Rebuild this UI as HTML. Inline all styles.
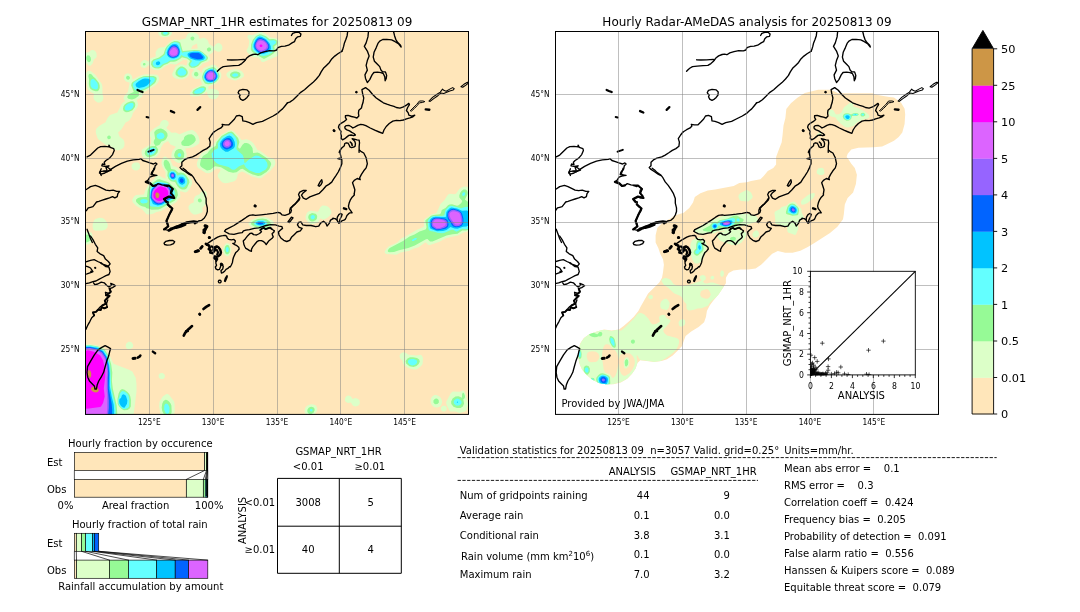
<!DOCTYPE html>
<html><head><meta charset="utf-8"><title>GSMAP_NRT_1HR validation 20250813 09</title>
<style>
html,body{margin:0;padding:0;background:#fff;}
svg{display:block;will-change:transform;opacity:0.9999;font-family:"DejaVu Sans","Liberation Sans",sans-serif;fill:#000;}
.cn{font-family:"DejaVu Sans Condensed","DejaVu Sans","Liberation Sans Narrow",sans-serif;font-stretch:condensed;}
</style></head><body>
<svg width="1080" height="612" viewBox="0 0 1080 612">
<defs>
<clipPath id="clipL"><rect x="85.5" y="31.5" width="383.0" height="382.9"/></clipPath>
<clipPath id="clipR"><rect x="555.5" y="31.5" width="383.0" height="382.9"/></clipPath>
<clipPath id="insclip"><rect x="810.4" y="268" width="108" height="107.3"/></clipPath>
</defs>
<rect width="1080" height="612" fill="#fff"/>
<text x="277.0" y="26.0" font-size="12" text-anchor="middle" >GSMAP_NRT_1HR estimates for 20250813 09</text>
<text x="747.0" y="26.0" font-size="12" text-anchor="middle" >Hourly Radar-AMeDAS analysis for 20250813 09</text>
<g clip-path="url(#clipL)">
<rect x="85.5" y="31.5" width="383.0" height="382.9" fill="#ffe6ba"/>
<path d="M167.5,37.1L163.0,37.2L159.8,36.0L158.7,34.5L158.3,33.0L159.2,30.0L170.5,30.0L171.8,32.0L171.8,34.0L170.2,36.0ZM215.5,99.0L212.5,99.3L209.5,98.0L207.7,95.5L207.0,91.7L202.5,94.9L199.0,96.3L193.5,96.6L191.5,96.3L190.2,95.5L189.7,94.5L190.0,93.0L192.5,89.2L202.2,84.5L200.0,78.8L199.5,78.5L197.5,79.1L195.5,79.0L193.6,78.0L192.3,76.5L191.6,75.0L191.8,73.0L194.2,69.5L189.0,68.8L189.6,72.5L189.1,75.0L187.0,77.5L184.0,79.1L181.5,79.5L178.5,79.1L175.0,78.2L173.0,76.6L172.3,75.0L172.3,73.5L175.5,67.1L177.0,65.7L180.0,64.6L183.0,64.6L186.5,65.7L187.7,61.0L186.5,59.9L183.5,59.7L176.0,64.4L170.0,64.0L165.7,66.0L161.0,69.4L158.0,70.3L154.0,69.7L151.5,68.8L148.5,64.9L146.0,67.4L144.5,67.9L142.5,67.6L141.5,66.9L140.6,65.5L140.4,64.0L140.9,62.5L142.5,60.7L144.0,60.1L146.0,60.3L148.5,61.7L150.5,58.6L155.9,56.5L155.5,52.5L157.0,49.8L158.5,48.2L160.3,47.5L164.5,47.0L169.5,42.2L173.5,39.7L175.5,39.4L179.0,39.9L185.5,38.5L187.5,34.2L190.0,32.6L193.5,32.6L197.0,33.8L198.5,35.5L199.5,39.0L203.5,37.8L205.9,38.5L208.0,40.7L209.0,44.0L213.5,46.7L214.0,46.7L215.5,44.5L216.8,43.5L218.5,43.1L220.0,43.5L221.5,44.7L222.3,46.5L222.4,48.5L221.5,50.4L220.0,51.4L218.5,51.7L217.0,51.4L214.5,50.1L212.0,53.1L208.7,55.0L210.1,58.0L210.1,59.5L209.5,60.5L207.5,61.9L202.9,63.5L201.2,65.5L196.5,69.0L199.0,70.3L201.0,73.0L201.5,72.7L202.9,69.0L204.0,67.9L212.0,64.8L214.0,64.7L215.5,65.2L218.3,68.0L221.3,74.0L221.3,76.5L220.4,79.0L216.0,83.7L208.4,86.5L208.5,89.7L211.5,88.7L214.0,88.9L217.1,90.0L218.7,91.5L219.1,93.5L218.5,96.0L217.0,98.0ZM263.5,62.1L261.5,61.8L259.9,59.0L258.0,57.6L252.5,57.0L246.9,52.0L246.7,50.0L248.5,46.5L249.2,42.0L249.0,40.0L247.4,37.0L247.6,36.0L248.5,35.0L249.5,34.7L252.5,35.2L259.5,32.3L261.5,32.1L268.0,35.2L270.5,37.5L275.0,37.9L277.5,38.7L279.8,41.0L280.1,44.0L278.1,47.5L278.4,54.5L278.0,55.8ZM192.0,49.0L197.7,48.5L197.0,43.4L192.5,45.8L191.1,48.5ZM90.5,65.7L89.0,65.7L88.0,65.1L84.0,60.2L84.0,54.4L86.0,52.8L89.0,51.9L91.0,50.2L93.0,49.9L94.5,50.5L96.0,52.1L96.6,54.0L96.7,56.5L96.0,58.1L94.0,59.3L92.6,63.5ZM236.0,80.5L232.0,80.1L227.8,77.5L226.3,75.0L226.6,73.5L227.4,72.5L230.5,70.2L233.5,69.3L238.5,69.6L242.0,71.4L243.8,74.0L243.8,76.5L241.2,78.5ZM100.0,102.6L97.5,102.6L94.7,100.5L93.3,97.5L94.2,94.0L89.3,91.0L87.8,89.0L86.6,82.0L86.7,78.5L86.1,74.0L86.7,72.0L88.0,71.0L89.5,70.8L91.0,71.3L95.5,74.9L101.8,84.0L102.4,86.5L102.5,94.0L103.5,98.0L102.5,100.9ZM119.5,150.1L117.5,150.5L114.7,149.5L112.6,148.0L111.0,146.2L106.0,145.0L98.5,139.5L97.5,138.0L95.9,133.0L95.8,130.5L96.5,128.5L99.1,126.0L105.5,122.2L107.5,117.9L110.0,115.1L117.4,112.5L121.4,104.5L123.0,102.6L125.4,101.0L123.6,99.0L123.6,97.5L125.1,95.0L127.9,92.0L129.6,83.0L129.4,82.5L126.0,81.5L124.2,79.5L124.0,76.5L125.5,74.1L128.0,73.2L130.5,74.2L131.9,76.0L132.5,79.4L133.0,79.6L140.0,75.8L144.0,74.6L148.0,74.2L157.0,74.8L158.4,76.0L159.2,78.5L158.9,80.5L157.7,83.0L155.2,85.5L143.8,92.5L142.0,96.8L136.9,100.0L138.2,104.5L137.2,107.5L132.9,113.0L132.0,116.3L130.0,119.6L128.5,121.0L125.6,122.5L121.5,129.3L118.1,132.5L119.5,136.5L123.4,139.5L124.5,142.5L124.4,145.5L123.6,147.5L121.9,149.0ZM181.5,162.6L179.0,162.9L177.0,162.5L172.1,159.0L171.4,156.5L171.9,152.5L172.8,150.5L175.7,147.0L175.4,146.5L170.5,144.6L168.0,141.0L163.5,143.5L160.7,148.0L160.3,151.0L158.8,154.0L157.3,156.0L155.5,157.3L150.5,159.3L147.0,159.5L144.0,158.2L142.0,155.5L141.5,152.0L142.0,149.5L150.9,144.0L151.3,139.0L149.8,135.5L149.9,132.5L154.1,128.5L159.8,125.0L160.7,122.0L163.0,120.0L165.9,120.0L168.1,121.5L168.7,123.0L168.7,124.5L166.3,128.0L171.5,132.8L175.5,132.6L179.5,134.2L188.0,130.8L192.0,130.1L193.5,130.6L196.0,132.5L198.4,136.0L199.6,140.5L199.1,143.5L197.5,144.8L193.0,147.2L185.2,148.5L186.6,153.5L186.6,156.5L184.5,160.5L183.0,161.9ZM227.5,183.0L225.0,183.2L222.5,182.5L220.5,180.7L218.0,177.0L217.6,175.0L220.4,170.5L220.5,169.5L220.0,169.0L216.5,168.6L211.0,172.5L208.5,173.2L206.0,173.1L198.2,168.0L197.0,166.0L196.8,163.5L198.2,159.0L201.3,153.5L203.5,152.0L207.0,150.6L210.5,147.0L213.7,144.5L215.7,141.0L221.5,134.4L229.0,130.6L231.5,130.2L234.1,131.5L238.6,136.0L241.5,140.0L246.5,139.2L249.0,140.0L251.5,141.5L253.6,143.5L257.5,149.9L260.5,151.1L268.2,157.0L273.5,158.8L274.9,160.5L275.4,163.0L274.7,165.5L270.2,171.0L261.5,177.9L259.0,178.2L252.0,176.5L243.5,172.0L241.5,171.4L237.9,174.0L237.0,178.1L235.4,180.5L233.5,181.5ZM149.5,214.5L146.5,214.3L142.0,209.2L136.0,205.7L132.5,202.0L132.3,199.5L134.0,196.5L136.0,195.1L144.0,194.5L145.2,190.5L147.6,186.0L150.4,182.5L154.0,179.2L156.3,176.0L157.5,175.6L159.5,175.8L164.0,178.2L165.9,178.5L165.4,175.0L165.7,172.5L162.3,166.5L161.5,163.0L162.6,158.0L164.0,156.7L165.5,156.6L170.0,159.6L172.9,166.0L176.5,166.9L179.5,169.9L184.5,171.2L186.5,172.4L191.9,180.5L192.2,182.5L191.9,184.5L189.2,189.5L187.0,191.9L185.0,192.4L181.0,191.3L180.0,191.4L180.4,196.5L176.5,202.0L161.0,211.0L156.5,212.0L153.0,213.7ZM137.0,170.5L134.0,170.2L132.5,169.0L131.7,167.5L131.5,166.0L131.9,164.5L133.0,163.2L134.5,162.4L138.0,162.6L139.3,163.5L140.0,164.9L140.1,167.0L139.6,168.5L138.5,169.7ZM396.5,254.7L386.5,254.1L384.8,253.0L384.7,251.5L386.2,249.0L389.0,246.2L396.3,243.0L397.8,242.0L401.3,238.5L405.0,236.8L417.0,229.8L423.3,227.0L424.2,225.5L423.7,221.0L424.5,219.0L427.5,217.3L431.0,214.6L436.5,213.0L440.5,203.9L444.6,200.0L447.0,195.9L448.5,194.2L450.0,193.7L454.0,194.2L456.0,193.8L459.5,188.8L461.5,187.4L464.0,186.5L467.0,186.7L470.0,189.4L470.4,218.0L470.0,230.6L463.7,232.5L458.0,235.5L446.2,238.0L439.5,241.8L430.0,245.0L428.5,245.1L426.0,242.4L425.0,242.4L418.5,247.2L414.0,248.5L408.6,251.0L400.5,252.4ZM196.5,214.6L193.5,214.4L191.0,212.6L188.6,209.0L188.5,206.3L190.5,203.7L193.6,202.5L194.0,198.5L195.5,195.9L199.5,194.2L201.0,192.1L202.5,191.1L205.0,190.8L206.3,192.0L206.9,194.0L206.6,196.0L205.3,198.5L206.3,201.5L206.2,203.0L205.4,204.5L202.3,208.0L202.7,211.0L202.1,212.5ZM313.0,224.0L311.0,224.0L309.5,223.5L305.9,219.5L305.5,216.5L307.0,212.8L309.0,211.3L311.0,210.7L318.0,211.8L320.5,207.0L322.5,205.6L326.0,205.7L328.5,207.0L330.5,209.6L331.5,212.0L331.0,213.9L329.5,215.9L327.0,218.0L324.0,219.5L322.9,219.5L320.5,218.3L318.5,221.7L316.0,223.2ZM266.0,230.1L259.0,229.8L252.0,227.4L249.0,225.0L248.6,224.0L248.7,222.5L251.5,219.8L258.5,217.3L264.5,217.0L268.0,217.9L272.8,221.0L273.8,222.0L273.9,223.0L270.5,227.9ZM102.5,230.6L95.5,230.7L94.0,230.3L93.3,229.5L92.6,227.0L92.7,224.0L93.9,220.5L95.4,219.0L99.5,217.7L102.5,218.0L104.8,219.5L107.0,222.5L107.8,225.0L107.4,227.5L105.5,229.5ZM88.0,244.5L85.5,244.8L84.0,244.5L83.9,244.0L84.0,232.3L86.0,231.8L91.0,232.3L91.8,233.0L92.3,234.5L92.8,239.0L92.3,241.0L90.5,243.2ZM228.0,256.2L226.5,256.3L224.7,255.0L223.5,253.0L223.0,250.5L223.3,248.0L224.3,245.5L226.0,243.6L227.5,243.2L229.0,243.7L230.2,245.0L231.3,249.5L230.4,253.5L229.5,255.0ZM130.5,349.1L127.5,349.0L126.5,348.2L125.8,347.0L125.7,345.5L126.3,343.5L128.5,341.8L130.0,341.7L131.5,342.3L133.1,344.5L133.2,346.0L132.7,347.5ZM133.0,416.1L84.0,416.4L83.6,416.0L83.6,349.5L84.0,344.7L90.0,344.3L95.5,345.1L98.0,345.7L105.0,348.8L109.4,355.0L113.5,363.8L129.0,369.7L132.3,371.5L135.8,378.0L136.5,384.5L136.5,391.5L133.9,412.5ZM417.0,369.2L414.5,369.5L411.0,368.9L407.5,367.4L404.5,365.4L403.1,363.5L402.5,360.6L400.7,359.0L399.8,357.5L399.6,355.5L400.5,353.8L402.0,352.7L404.0,352.3L406.0,352.9L408.5,354.8L416.5,355.4L420.5,354.8L421.8,355.5L423.0,358.0L422.6,364.0L421.1,366.0ZM163.0,379.0L160.5,378.9L158.8,377.5L158.6,375.0L160.0,373.3L162.5,373.1L164.0,373.9L164.8,375.0L164.8,377.5ZM465.1,411.5L459.5,412.9L455.5,411.6L450.5,411.5L449.3,410.5L446.7,405.0L446.1,403.0L446.4,401.5L450.9,393.0L452.8,391.5L460.0,391.7L463.0,390.4L464.0,391.0L465.1,392.5L468.0,404.0L466.3,410.5ZM173.5,416.0L161.4,416.0L160.2,413.0L159.1,406.0L159.6,401.5L163.0,396.2L166.5,394.0L167.5,393.9L169.0,394.8L174.1,401.5L174.6,404.5L174.7,411.5ZM437.5,407.6L435.5,407.5L433.5,406.7L431.8,405.0L430.7,402.5L430.6,400.0L431.2,398.0L432.8,396.0L434.5,394.9L436.5,395.0L439.5,396.5L441.0,398.2L441.9,400.5L442.1,402.5L441.3,405.0L439.9,406.5ZM357.5,406.1L355.5,406.5L353.5,405.9L352.0,404.5L351.0,402.5L348.0,402.9L346.0,402.1L345.1,401.0L344.8,399.5L345.6,397.0L347.0,395.8L349.0,395.6L351.0,396.6L352.5,399.0L355.5,398.1L358.2,399.0L359.5,400.5L359.9,403.0L359.0,405.0ZM313.5,416.0L307.1,416.0L304.9,413.0L304.6,410.5L305.2,408.0L306.5,406.2L308.5,404.9L311.0,404.2L313.5,404.4L315.5,405.3L316.8,407.0L317.3,409.0L317.0,411.0ZM445.0,411.5L442.5,411.6L441.0,410.1L441.0,407.5L442.5,405.8L445.0,405.8L446.8,407.5L446.6,410.0Z" fill="#dcffc8" fill-rule="evenodd"/>
<path d="M167.5,35.6L165.0,36.0L162.5,35.4L161.1,34.0L161.2,32.0L163.6,30.0L167.4,30.0L169.0,31.5L169.6,33.0L169.0,34.5ZM264.5,58.7L263.5,58.8L254.5,53.6L251.9,51.5L250.8,49.5L251.1,44.5L252.7,40.0L256.0,36.0L259.5,34.3L261.5,34.4L266.0,36.3L269.5,39.3L273.0,39.0L275.5,39.5L277.0,40.5L277.8,42.0L277.3,44.0L274.3,46.5L274.9,50.0L274.1,53.0L271.0,55.3ZM193.5,40.2L192.0,40.4L190.7,39.5L190.4,38.0L191.0,36.9L192.5,36.4L194.0,37.1L194.5,38.5ZM158.5,68.6L155.0,68.3L152.5,67.0L151.0,64.5L151.4,61.5L153.4,59.5L159.0,57.5L163.0,54.5L163.8,53.5L165.2,49.0L167.1,46.0L171.0,42.5L174.5,40.9L178.0,41.3L180.3,42.5L182.5,50.4L183.0,51.0L194.5,50.1L199.5,50.3L202.5,51.9L207.1,56.0L208.0,57.5L207.8,59.0L206.5,60.5L201.5,62.4L198.2,66.0L194.5,67.8L191.0,67.7L189.0,66.1L188.5,64.0L189.9,61.5L189.7,60.5L186.9,58.5L182.0,57.3L180.0,59.0L176.0,61.2L174.0,61.8L170.5,61.8L167.5,63.7L164.0,65.1L160.5,67.9ZM209.5,51.6L208.0,51.4L206.9,50.0L207.1,48.5L208.5,47.4L210.0,47.6L211.2,49.0L210.9,50.5ZM90.0,62.1L89.0,62.3L88.0,61.9L86.4,59.5L86.2,57.0L87.5,55.2L89.3,55.5L90.7,57.5L91.0,60.0ZM144.5,65.6L143.5,65.4L142.9,64.5L143.1,63.5L144.0,62.9L145.0,63.1L145.6,64.0L145.4,65.0ZM184.0,77.1L182.0,77.5L179.5,77.2L177.0,76.0L175.6,74.5L175.5,72.5L176.4,70.0L178.2,68.0L180.5,66.6L182.5,66.5L184.5,67.4L186.3,69.0L187.5,71.0L187.8,73.0L187.3,74.5L186.0,76.0ZM211.5,84.1L208.0,84.2L205.0,83.5L202.7,80.0L202.0,77.0L203.3,73.0L205.2,70.0L209.0,67.9L213.0,67.1L215.0,67.8L216.6,69.5L219.2,74.0L219.6,76.5L218.7,79.0L216.5,81.6L214.5,83.1ZM237.0,78.2L234.0,78.4L231.7,77.5L230.1,76.0L230.1,74.0L231.5,72.6L234.0,71.6L236.5,71.5L239.0,72.3L240.3,73.5L240.5,75.5L239.3,77.0ZM196.5,76.6L194.8,76.0L193.9,74.5L194.5,72.5L196.0,71.7L197.5,72.2L198.5,74.0L198.0,75.8ZM97.5,91.2L95.5,91.2L92.5,90.3L90.6,89.0L89.6,87.5L88.8,84.0L89.1,79.5L88.3,76.0L89.0,73.9L90.0,73.7L91.7,74.5L93.2,76.5L95.5,78.4L99.0,83.0L99.7,85.5L99.7,88.0L99.0,90.1ZM128.5,79.7L127.0,79.4L126.0,78.0L126.4,76.5L127.5,75.7L129.0,76.0L130.0,77.5L129.6,79.0ZM132.0,99.5L128.5,98.7L127.6,98.0L127.3,97.0L127.8,95.5L129.2,94.0L133.8,92.0L131.2,85.5L131.5,83.5L132.6,82.0L139.0,77.9L143.5,76.2L146.0,75.9L153.5,76.1L156.0,77.0L156.6,78.0L156.6,79.5L155.7,82.0L154.5,83.6L148.0,88.2L138.9,92.5L138.6,93.0L139.2,94.5L138.6,96.0L135.1,98.5ZM198.0,95.1L195.0,95.1L193.0,94.3L192.4,92.5L193.3,90.5L196.0,88.7L201.0,86.6L203.5,86.3L205.5,87.1L206.2,89.0L204.8,91.5L202.0,93.7ZM128.5,112.1L126.0,112.2L123.7,111.0L123.0,109.0L123.4,106.5L124.7,104.5L127.0,102.8L131.0,101.2L133.0,101.2L134.3,102.0L135.1,103.5L135.3,105.0L134.9,107.0L132.5,110.2ZM158.0,145.6L155.5,146.0L153.7,143.0L153.8,141.0L155.1,138.5L154.2,132.5L155.0,131.0L156.5,129.8L159.0,128.7L161.0,128.5L163.5,129.5L166.1,131.5L167.4,133.5L167.6,136.0L166.0,139.2L164.0,140.7L161.5,141.6L159.7,144.5ZM261.0,175.6L258.0,175.9L252.7,174.5L248.4,172.5L242.5,168.7L240.5,169.3L236.5,172.3L233.0,172.7L228.5,171.8L221.0,167.3L215.5,166.2L214.0,166.7L210.5,169.8L207.0,170.5L202.0,167.5L200.4,166.0L200.0,164.3L200.9,159.5L203.0,155.9L207.5,153.3L209.0,151.0L211.9,148.0L215.6,146.0L216.6,142.0L221.5,136.1L228.5,132.1L231.5,131.5L233.2,132.5L238.1,138.0L239.4,142.0L238.1,147.0L239.0,148.4L240.1,148.5L242.5,144.8L244.5,143.1L246.5,142.9L248.4,143.5L250.5,145.0L252.5,148.0L253.1,153.0L257.5,152.6L259.5,153.2L266.6,158.0L270.1,161.5L271.0,163.0L271.2,164.5L269.3,169.0L266.5,172.0ZM188.5,146.0L184.5,146.1L182.5,145.5L181.5,144.5L181.2,142.5L182.0,141.0L183.8,139.5L184.1,137.5L185.2,136.0L188.0,134.5L191.5,134.2L193.2,135.0L194.7,136.5L195.6,138.5L195.7,140.5L193.9,143.0L191.0,145.1ZM110.0,139.0L108.5,139.3L107.5,138.5L107.1,137.0L108.0,135.8L109.5,135.6L110.7,136.5L110.8,138.0ZM150.5,157.1L147.6,157.0L145.6,155.5L144.7,153.5L145.1,151.0L147.4,148.5L150.0,146.6L152.5,146.0L156.0,146.1L158.2,149.5L157.5,152.5L155.0,155.2ZM181.0,160.0L179.0,160.2L177.0,159.5L175.2,158.0L174.2,156.0L174.3,154.0L175.2,151.5L176.5,150.0L178.5,149.0L180.5,149.1L182.0,149.8L183.5,151.6L184.3,153.5L184.0,157.0L182.6,159.0ZM184.5,189.6L182.0,189.4L179.5,188.3L177.5,186.3L175.0,182.0L171.0,181.3L168.6,179.0L167.4,176.0L167.7,171.5L165.0,167.9L163.7,164.5L163.7,162.0L164.7,160.0L166.5,159.8L168.6,161.5L170.0,164.2L170.9,168.5L171.3,169.0L175.0,169.7L178.5,172.8L181.0,172.6L184.0,173.3L186.5,175.7L189.1,180.0L189.5,182.5L187.2,187.5L186.0,188.9ZM158.5,209.4L151.5,209.8L149.0,208.7L146.5,208.3L145.2,207.0L142.0,206.2L139.4,205.0L136.3,202.0L135.9,200.5L136.2,199.5L138.0,198.0L140.5,197.2L147.0,197.0L147.7,190.5L148.8,187.5L152.5,182.9L157.5,179.6L159.5,179.3L169.0,182.4L172.5,185.9L175.5,188.2L177.1,190.5L178.0,195.0L176.2,199.0L174.5,200.8L160.5,208.8ZM394.0,252.1L389.5,252.3L388.3,252.0L387.7,251.0L388.5,249.3L389.7,248.0L403.0,240.9L409.5,236.4L414.5,234.4L419.5,231.6L425.5,229.4L426.2,228.5L426.5,227.0L425.3,220.5L431.0,215.8L433.5,215.0L440.0,214.3L440.9,213.0L441.8,210.0L445.5,207.9L448.0,205.3L449.5,204.4L452.0,204.3L457.0,205.7L458.2,205.5L459.5,204.6L461.3,203.0L462.3,201.0L459.4,197.5L459.3,195.5L460.1,193.0L461.5,190.9L463.5,189.6L465.5,189.6L466.9,190.5L467.7,192.0L467.7,194.0L464.9,199.5L467.5,201.6L470.0,202.5L470.0,229.5L466.0,230.6L462.2,230.5L457.5,233.7L452.5,234.2L446.5,235.6L432.5,241.6L430.0,241.6L427.5,239.1L426.0,239.2L414.8,245.5L408.2,248.0L399.0,250.3ZM200.0,202.5L198.5,202.0L197.8,200.5L198.3,199.0L199.5,198.4L201.0,198.8L201.9,200.5L201.3,202.0ZM313.0,221.5L311.5,221.5L310.0,220.7L308.7,219.0L308.2,217.5L308.4,216.0L309.2,214.5L312.0,213.0L315.5,213.7L316.8,215.0L317.2,216.5L316.9,218.5L316.0,220.0ZM264.5,228.1L259.4,228.0L255.0,226.8L251.8,225.0L251.1,224.0L251.1,223.0L253.0,220.9L258.0,219.0L262.5,218.5L266.5,219.2L269.9,221.5L270.6,222.5L270.6,224.0L268.5,226.5ZM88.0,242.1L86.0,242.5L84.0,242.0L84.0,235.3L87.5,234.5L88.9,235.0L89.9,236.0L90.5,238.0L90.4,239.5L89.5,241.1ZM228.0,254.2L226.5,254.3L225.5,253.5L224.3,250.5L225.0,246.8L226.0,245.4L227.0,244.9L228.0,245.0L229.0,245.8L230.1,249.0L229.6,252.5ZM117.0,416.0L84.0,416.4L83.6,416.0L83.6,352.0L84.0,345.2L90.0,344.9L98.0,346.4L104.6,349.5L108.5,355.5L111.2,364.5L112.3,372.5L111.9,381.0L112.8,388.5L116.7,405.5L117.3,413.5ZM413.5,367.0L409.5,366.3L406.1,363.5L405.6,361.0L407.5,358.4L410.0,357.3L413.0,357.3L417.0,358.1L419.2,359.5L419.8,361.5L418.7,364.0L416.5,366.1ZM127.5,410.1L124.0,410.2L122.0,409.3L119.1,406.5L117.7,404.0L117.5,399.0L118.6,393.5L120.0,390.5L122.0,389.0L124.5,389.7L127.5,391.9L129.3,394.0L130.3,396.5L130.9,400.0L130.8,406.5L129.5,408.8ZM460.5,408.0L457.0,408.1L453.5,406.8L451.3,404.0L451.1,401.5L452.6,398.5L455.5,396.5L458.5,396.2L462.0,397.8L462.1,394.0L463.0,392.6L464.0,393.2L465.0,396.0L464.8,398.0L463.3,399.5L464.1,403.5L462.8,406.5ZM437.5,404.1L435.0,404.2L433.5,402.7L433.4,400.5L435.0,398.7L437.0,398.5L438.7,400.0L438.9,402.5ZM170.4,416.0L164.8,416.0L162.2,411.0L161.7,407.5L162.3,403.5L163.5,401.1L165.5,399.8L167.0,399.9L169.0,401.4L170.6,403.5L171.4,405.5L171.7,412.0L171.0,414.5ZM311.5,414.1L310.0,414.2L308.6,413.5L307.7,412.5L307.2,411.0L307.5,409.5L308.5,408.0L310.0,407.0L311.5,406.7L313.7,407.5L314.4,408.5L314.7,410.0L313.7,412.5Z" fill="#96fa96" fill-rule="evenodd"/>
<path d="M166.5,34.6L164.0,34.5L163.0,33.5L163.2,32.5L165.0,31.4L167.0,31.8L167.7,32.5L167.8,33.5ZM263.5,56.0L260.5,55.4L256.1,53.0L253.4,50.5L252.2,48.0L252.4,44.0L254.4,39.5L257.0,36.6L259.5,35.4L261.5,35.5L265.5,37.4L269.0,40.5L274.0,40.3L275.5,41.0L276.1,42.0L275.6,43.5L272.5,45.8L273.1,50.0L272.1,52.5L268.0,55.0ZM159.5,67.1L156.5,67.4L154.0,66.4L152.5,64.0L153.0,61.8L155.0,60.0L160.0,58.4L164.5,55.0L165.1,54.0L165.6,51.0L167.6,47.0L171.2,43.5L174.5,42.0L177.5,42.4L179.3,43.5L182.0,52.7L184.5,52.0L193.0,51.0L199.0,51.0L202.0,52.5L205.8,56.0L206.6,57.5L206.3,59.0L205.3,60.0L200.0,61.8L198.5,64.0L196.0,66.0L192.5,66.7L190.8,66.0L190.1,64.5L190.5,63.2L191.9,61.5L191.8,60.5L187.0,57.2L184.0,56.4L181.5,55.0L179.6,57.5L178.2,58.5L174.5,60.1L170.0,60.4L167.0,62.5L163.0,64.1ZM184.0,75.5L180.5,75.8L178.7,75.0L177.8,74.0L177.4,72.5L177.8,71.0L180.2,68.5L182.0,68.0L183.5,68.5L186.0,71.0L186.3,72.5L186.0,73.8ZM211.5,83.1L208.0,83.0L205.5,82.0L203.6,79.0L203.2,76.5L204.4,73.0L206.4,70.5L209.5,68.8L212.5,68.4L214.5,69.1L216.0,70.7L218.0,74.0L218.5,76.5L217.9,78.5L216.0,81.0L214.0,82.4ZM237.7,76.0L235.0,76.9L233.2,76.5L232.1,75.5L232.2,74.5L234.5,73.2L237.2,73.5L238.3,75.0ZM137.5,91.0L135.0,90.1L133.0,86.5L132.7,84.0L134.2,82.0L139.9,78.5L144.0,77.1L152.5,77.3L154.5,78.0L154.9,79.5L154.2,81.5L150.2,85.5L144.0,89.1ZM96.0,89.5L92.5,88.4L91.5,87.5L90.5,85.5L90.5,81.0L91.4,79.5L92.3,79.0L93.5,79.0L95.0,80.2L97.0,82.5L97.9,84.5L97.9,88.0L97.2,89.0ZM199.5,93.5L197.0,93.8L195.0,93.5L194.3,93.0L194.2,92.0L195.3,90.5L198.9,88.5L202.0,87.7L204.1,88.0L204.6,89.0L204.0,90.6L201.8,92.5ZM128.5,110.5L126.5,110.6L125.3,110.0L124.7,108.5L125.1,106.5L126.3,105.0L128.7,103.5L131.0,102.9L132.5,103.0L133.5,104.0L133.7,105.0L133.0,107.5L131.0,109.5ZM162.0,139.1L159.5,139.3L157.5,138.3L156.5,136.5L157.0,134.4L160.5,132.6L162.0,132.7L163.4,133.5L164.3,135.0L164.5,136.5L163.7,138.0ZM259.5,173.0L256.0,173.0L249.6,170.5L245.8,167.5L244.0,164.2L239.0,166.2L235.0,169.4L233.5,169.8L232.0,169.4L228.5,167.0L219.0,164.5L216.3,163.0L212.5,159.0L211.5,154.0L214.0,150.3L218.0,148.2L217.8,143.5L221.0,138.5L223.5,136.3L228.5,133.4L231.0,133.0L232.5,133.9L235.6,137.5L236.5,139.5L237.2,143.5L236.3,149.0L237.5,150.5L242.5,154.7L243.5,157.1L244.5,163.0L245.5,162.7L248.3,160.0L253.6,156.5L256.0,155.6L258.9,156.0L265.0,159.7L267.0,162.5L267.6,165.0L267.4,167.0L265.7,169.5ZM151.0,155.0L149.0,155.0L147.5,154.0L147.0,152.5L147.3,151.0L148.5,149.4L150.5,147.9L152.5,147.5L154.5,148.0L155.9,149.5L155.5,152.0L153.5,154.0ZM179.5,157.0L178.1,156.5L177.5,155.0L178.0,153.7L179.5,153.1L180.6,153.5L181.4,155.0L180.7,156.5ZM184.0,187.2L182.0,187.4L179.5,186.1L177.5,183.5L176.0,179.7L173.0,180.4L170.2,179.0L169.2,177.5L168.6,175.5L168.9,173.5L170.0,171.8L172.0,170.8L174.0,171.2L175.7,172.5L177.5,175.8L179.5,174.7L181.5,174.4L183.5,175.0L185.0,176.2L187.0,179.5L187.3,182.0L186.3,185.0ZM158.5,207.0L151.5,206.6L149.5,205.5L149.2,204.0L149.9,201.5L149.0,197.0L149.9,190.0L150.7,188.0L154.5,183.4L157.0,182.1L159.5,181.7L167.0,183.2L168.5,183.9L174.1,190.0L175.0,193.0L174.2,197.5L173.0,199.5L162.5,205.8ZM463.5,196.0L462.3,195.5L462.1,194.0L463.0,192.6L464.5,192.2L465.2,193.0L465.2,194.0L464.5,195.4ZM146.5,203.0L143.0,203.6L141.3,203.0L140.3,202.0L140.3,200.5L141.5,199.5L143.0,199.0L146.5,199.5L147.6,200.5L147.6,202.0ZM444.0,233.0L442.0,233.3L437.5,232.7L433.5,231.4L430.5,231.1L429.0,230.2L428.3,228.5L427.7,221.5L428.2,220.0L429.9,218.0L431.5,216.8L433.5,216.0L441.5,216.0L443.8,215.5L444.5,214.5L445.5,210.1L449.0,206.6L450.5,205.8L452.5,205.9L461.0,208.2L466.0,206.8L468.0,207.1L470.0,208.2L470.0,228.1L466.0,229.2L462.0,228.8L456.5,231.8L453.5,230.0L451.5,229.7ZM313.5,219.2L312.0,219.2L310.7,218.0L310.6,216.5L312.0,215.0L314.0,215.3L314.9,216.5L314.7,218.0ZM264.0,226.1L260.5,226.5L257.0,225.8L254.5,224.5L254.0,223.0L255.3,221.5L258.5,220.3L261.5,220.0L264.5,220.5L266.5,221.6L267.3,223.5L266.2,225.0ZM413.5,241.1L412.0,241.0L411.8,240.5L412.4,239.5L415.0,238.0L416.9,238.0L416.3,239.5ZM227.5,252.2L226.5,251.9L225.7,250.0L226.0,248.0L227.0,247.0L228.0,247.2L228.8,249.0L228.5,251.2ZM115.5,416.0L83.7,416.0L84.0,345.9L90.0,345.6L98.0,347.1L104.0,350.4L107.6,356.0L110.2,365.5L111.3,388.5L115.2,404.5L115.7,410.0ZM414.5,365.1L412.0,365.4L409.5,364.5L407.9,362.5L408.2,360.5L409.3,359.5L411.5,358.9L413.7,359.0L416.2,360.0L417.1,361.0L417.1,362.5L416.2,364.0ZM125.0,409.1L123.0,408.9L121.1,407.5L119.0,405.0L118.4,403.0L118.3,399.0L119.3,397.0L119.9,394.0L121.0,392.0L122.5,391.0L125.0,391.7L127.5,393.9L128.5,395.6L129.3,399.0L129.1,406.5L127.8,408.0ZM459.0,405.6L456.0,405.5L453.8,403.5L453.8,401.0L455.7,399.0L457.5,398.6L459.0,398.9L461.3,401.0L461.6,402.5L461.2,404.0ZM168.0,413.8L167.0,413.9L165.5,412.8L164.1,409.5L164.3,405.5L165.0,404.2L166.0,403.5L168.0,404.3L169.5,407.4L169.4,411.5L169.0,412.8ZM311.5,411.5L310.5,411.3L309.9,410.5L310.1,409.5L311.0,408.9L312.0,409.0L312.6,410.0L312.3,411.0Z" fill="#64ffff" fill-rule="evenodd"/>
<path d="M263.0,54.1L260.0,53.9L257.0,52.1L254.5,49.5L253.5,47.0L253.6,44.0L255.4,40.0L257.5,37.5L259.5,36.6L262.0,37.0L266.3,39.5L269.7,43.5L270.8,46.5L270.9,49.0L269.9,51.0L267.0,52.8ZM174.0,58.6L171.0,58.3L168.6,57.0L167.1,55.0L166.7,52.5L167.9,49.0L170.0,46.1L172.5,44.3L175.0,43.9L177.0,44.5L178.3,46.0L179.9,49.5L180.2,52.0L179.6,54.5L178.4,56.5L176.5,57.8ZM200.0,60.5L195.5,60.2L190.3,58.5L187.9,56.0L187.5,54.5L187.8,53.5L189.5,52.4L193.5,51.7L198.0,51.7L200.5,52.5L204.3,56.0L204.9,58.0L203.5,59.7ZM159.0,65.0L157.5,65.3L156.0,64.5L155.8,63.0L156.5,62.0L158.5,61.3L160.0,62.0L160.3,63.5ZM212.5,82.0L209.5,82.2L207.0,81.5L205.3,80.0L204.1,77.5L204.4,75.0L206.0,72.2L208.0,70.4L210.5,69.5L213.0,69.6L214.5,70.5L216.5,73.0L217.5,75.5L217.4,77.5L216.3,79.5L214.5,81.2ZM139.0,88.0L136.5,87.1L135.5,85.0L136.0,83.4L139.0,81.0L142.7,79.0L145.0,78.4L148.5,78.8L150.4,80.0L150.5,81.0L149.9,82.5L147.1,85.5L144.0,87.1ZM228.0,151.7L225.5,151.7L222.0,149.2L220.4,147.0L219.8,144.0L220.7,141.5L223.0,138.7L227.0,136.2L229.5,135.5L231.5,136.4L233.2,138.5L234.7,142.0L235.0,145.0L234.6,147.0L233.5,148.5ZM151.5,152.7L149.6,152.5L149.3,151.0L150.5,149.7L152.5,149.4L153.2,150.0L153.3,151.0ZM174.0,179.2L171.5,178.9L169.7,176.5L169.9,173.5L171.5,172.0L174.0,172.3L175.7,174.5L175.7,177.5ZM184.6,183.5L182.5,184.8L181.0,184.6L179.5,183.5L178.5,182.0L178.2,179.0L179.0,177.5L180.0,176.7L182.5,176.7L184.0,177.7L184.9,179.0L185.3,182.0ZM161.0,205.0L157.5,205.5L152.9,204.0L150.1,197.5L150.9,191.0L151.5,189.0L155.0,184.5L157.0,183.3L159.0,182.8L166.5,184.1L168.0,184.8L171.8,189.5L172.7,191.5L171.6,198.5L170.0,199.8L166.5,201.5L163.0,204.2ZM443.0,231.0L437.0,231.2L430.5,228.8L429.7,227.0L429.5,222.0L430.0,220.0L431.1,218.5L433.0,217.3L435.5,216.8L445.8,217.0L446.3,212.5L446.9,211.0L450.0,208.1L451.5,207.5L457.0,208.6L462.0,210.8L466.5,210.4L470.0,211.6L470.0,224.6L466.5,226.4L463.0,226.7L457.5,228.7L454.5,228.4L450.5,227.0L446.5,229.9ZM263.5,225.0L261.0,225.5L258.0,225.1L256.0,224.0L255.7,223.0L256.5,222.0L258.5,221.2L263.0,221.3L264.5,222.0L265.2,223.0L264.9,224.0ZM114.0,416.0L83.8,416.0L84.0,346.6L90.0,346.4L97.5,347.8L103.2,351.0L106.8,356.5L109.2,365.5L109.9,373.0L109.8,386.0L111.8,397.0L113.7,404.5L114.2,411.0ZM124.5,407.7L123.0,407.6L121.0,406.0L119.5,403.6L119.2,401.5L119.5,399.0L121.0,397.9L122.0,395.0L123.5,394.2L125.0,394.9L126.0,396.1L127.4,400.5L127.0,403.8ZM458.0,402.6L457.0,402.7L456.8,402.0L457.5,401.6L458.1,402.0Z" fill="#00c3ff" fill-rule="evenodd"/>
<path d="M263.5,52.7L261.0,53.0L258.5,51.9L256.1,50.0L254.6,47.5L254.4,45.0L255.2,42.5L257.0,39.4L259.0,37.9L261.0,37.9L265.0,39.8L267.5,42.2L269.2,45.0L269.4,47.5L268.6,49.5L266.5,51.3ZM174.5,57.6L172.5,57.7L170.0,56.7L168.2,55.0L167.7,53.0L168.3,50.5L170.0,47.6L172.0,45.7L174.0,45.2L176.0,45.6L177.5,46.9L178.8,49.0L179.4,51.5L179.1,53.5L178.1,55.5L176.5,56.8ZM201.5,59.0L197.5,59.2L192.4,58.0L190.0,56.5L189.2,54.5L190.3,53.5L192.0,53.0L198.5,53.0L200.5,54.0L203.0,56.8L203.1,58.0ZM213.0,81.1L210.5,81.4L208.0,81.0L206.5,80.0L205.1,78.0L204.9,76.0L205.9,73.5L207.5,71.7L209.5,70.5L211.5,70.2L213.5,70.8L215.0,72.1L216.4,74.5L216.7,76.5L216.1,78.5L214.9,80.0ZM227.0,149.5L225.0,149.0L222.9,147.5L221.7,145.5L221.5,143.5L222.4,141.5L224.0,139.7L226.5,138.3L229.0,137.9L230.5,138.7L231.9,140.5L233.0,143.0L233.1,145.0L232.5,146.5L231.0,147.9ZM174.0,178.1L172.5,178.4L170.7,177.0L170.4,174.5L171.5,173.0L173.5,173.0L174.8,174.5L175.0,176.5ZM183.0,182.6L181.5,182.9L180.0,181.7L179.6,180.0L180.5,178.5L182.0,178.3L183.4,179.5L183.8,181.0ZM161.0,204.1L158.0,204.4L155.0,203.3L151.7,199.5L150.9,197.5L151.4,192.0L152.2,189.5L155.8,185.0L159.0,183.6L161.0,183.8L167.5,185.4L170.7,189.5L171.5,191.5L170.7,197.0L170.0,198.5ZM459.0,227.1L455.5,227.2L453.0,226.4L451.7,225.0L450.5,222.3L447.8,219.0L447.3,215.5L447.6,212.5L448.5,211.0L451.0,209.2L453.5,208.8L458.5,210.2L461.0,211.9L462.2,214.0L463.4,218.5L463.3,223.0L462.0,225.5ZM445.5,228.7L438.0,230.3L436.0,230.0L432.5,228.2L431.3,227.0L430.7,224.5L430.9,221.5L431.5,220.0L433.0,218.6L435.5,217.7L439.0,217.7L445.0,218.5L447.5,220.0L448.6,224.5L447.9,227.0ZM260.5,224.5L257.9,224.0L257.3,223.0L258.5,222.2L260.5,221.9L263.3,223.0L262.7,224.0ZM112.0,416.0L83.8,416.0L84.0,347.4L90.0,347.1L97.5,348.7L102.5,351.5L106.3,357.5L108.0,363.5L108.6,367.5L109.1,373.0L108.8,388.5L111.7,404.0L112.2,410.0Z" fill="#0064ff" fill-rule="evenodd"/>
<path d="M263.5,51.5L261.0,51.9L259.0,51.2L256.8,49.5L255.5,47.4L255.2,45.5L255.6,43.5L257.3,40.5L259.0,39.2L261.0,39.1L264.5,40.6L266.6,42.5L268.1,45.0L268.3,47.0L267.5,48.7L265.6,50.5ZM176.5,55.9L173.0,56.9L171.0,56.4L169.2,55.0L168.5,53.5L168.7,51.5L170.0,49.0L171.8,47.0L173.5,46.3L175.0,46.4L176.5,47.2L178.0,49.1L178.6,51.0L178.5,53.0L177.9,54.5ZM213.6,80.0L210.0,80.6L207.9,80.0L206.5,78.8L205.7,77.0L206.0,75.0L207.0,73.2L208.5,71.8L210.5,71.1L212.5,71.3L213.8,72.0L215.1,73.5L215.9,75.5L215.8,77.0L215.0,78.8ZM228.5,147.5L226.5,147.8L225.0,147.2L223.6,146.0L223.0,144.5L223.1,143.0L223.9,141.5L225.5,140.1L227.0,139.6L229.5,140.1L231.3,143.0L231.0,145.5ZM173.5,177.2L172.0,177.2L171.1,176.0L171.2,174.5L172.0,173.7L173.0,173.7L174.0,174.7L174.2,176.0ZM161.5,203.1L158.5,203.4L156.0,202.5L152.6,199.5L151.5,197.0L152.0,192.0L153.0,189.5L156.6,185.5L159.5,184.3L167.0,186.1L168.7,188.0L170.5,191.5L169.9,196.0L169.0,197.9ZM459.0,226.1L456.0,226.3L453.9,225.5L448.9,218.5L448.2,216.0L448.3,213.5L449.0,212.0L451.0,210.3L453.5,209.8L456.5,210.4L459.5,211.8L461.0,213.5L462.4,218.5L462.6,222.0L461.5,224.6ZM440.5,229.0L436.5,229.3L432.5,226.8L431.7,225.0L431.7,222.5L432.4,220.5L433.3,219.5L435.5,218.5L439.0,218.4L444.5,219.4L446.5,220.8L447.4,223.5L447.0,226.0L445.0,227.5ZM108.0,416.0L83.9,416.0L84.0,348.3L90.0,347.9L96.5,349.2L102.0,352.3L105.5,357.6L107.5,365.0L108.2,373.0L107.8,378.0L107.8,388.5L108.8,400.5L108.8,408.0Z" fill="#9664ff" fill-rule="evenodd"/>
<path d="M262.0,50.5L260.5,50.4L258.5,49.5L257.0,48.0L256.4,46.5L256.3,45.0L257.0,43.1L258.5,41.3L260.0,40.6L262.5,41.0L264.4,42.0L266.0,43.6L266.8,45.5L266.7,47.0L265.8,48.5L264.0,49.8ZM175.0,55.5L171.9,55.5L170.5,54.6L169.9,53.5L169.8,52.0L170.5,50.4L173.0,48.0L174.5,47.9L175.8,48.5L177.5,51.0L177.0,53.9ZM212.5,79.1L211.0,79.5L209.0,79.1L208.0,78.5L207.0,77.0L207.5,74.4L209.5,72.6L212.3,72.5L213.6,73.5L214.5,74.9L214.5,77.1ZM228.0,146.1L225.9,146.0L224.5,144.3L225.0,142.3L227.0,141.1L228.8,141.5L229.8,143.0L229.5,145.0ZM173.0,176.1L172.0,175.7L172.5,174.7L173.1,175.0ZM160.0,202.5L157.0,202.0L154.5,200.3L152.5,198.0L152.2,196.0L152.6,192.5L153.6,190.0L157.4,186.0L160.0,185.0L166.8,187.0L169.0,190.0L169.7,192.5L169.0,196.0L168.1,197.5L162.0,201.9ZM459.0,224.6L457.0,224.8L455.0,224.2L450.5,218.3L449.5,215.0L450.0,213.1L451.0,212.0L453.0,211.3L455.5,211.4L458.3,212.5L459.5,213.6L460.5,215.8L461.2,221.0L460.5,223.5ZM439.5,228.0L436.7,228.0L433.5,225.8L433.0,224.4L433.1,222.5L433.8,221.0L435.0,220.0L436.5,219.5L439.7,219.5L443.6,220.5L445.5,222.0L445.8,224.0L445.1,225.5L442.6,227.0ZM106.5,416.0L84.0,416.0L84.0,349.3L90.0,348.8L96.0,350.0L101.5,353.4L104.5,358.0L106.6,365.5L107.2,371.5L106.7,378.0L106.7,391.0L107.2,394.5L107.2,409.0Z" fill="#dc64ff" fill-rule="evenodd"/>
<path d="M261.5,47.0L260.4,47.0L259.5,46.0L259.8,45.0L260.5,44.5L261.5,44.5L262.5,45.5L262.3,46.5ZM160.0,201.0L157.5,200.8L155.2,199.5L153.6,197.5L153.3,195.5L153.7,192.5L155.0,190.1L158.3,187.0L160.5,186.3L166.0,188.1L168.0,191.0L168.3,193.0L168.0,194.9L167.0,196.6L161.6,200.5ZM89.0,408.6L84.0,408.8L84.0,408.0L84.0,351.5L88.0,350.3L94.5,351.9L100.2,355.5L103.1,360.5L105.2,370.5L105.2,377.0L103.8,388.5L104.7,396.5L103.1,403.0L101.0,406.5L100.0,407.1Z" fill="#ff00ff" fill-rule="evenodd"/>
<path d="M158.0,198.3L156.5,198.0L155.4,196.0L155.5,193.6L156.5,192.4L157.7,192.5L159.4,194.0L159.0,197.0ZM90.0,378.0L88.5,377.2L87.6,375.0L87.8,371.5L89.0,369.7L90.5,370.9L91.3,373.5L91.1,376.5ZM96.0,392.5L93.5,392.1L91.5,390.6L90.9,389.0L91.6,387.5L93.0,386.8L95.0,386.8L97.0,387.5L98.1,388.5L98.8,390.0L98.6,391.0L97.7,392.0Z" fill="#cd9646" fill-rule="evenodd"/>
<g transform="translate(-469.16,0)" fill="none" stroke="#000" stroke-width="1.35" stroke-linejoin="round" stroke-linecap="round">
<path d="M606.6,89.9L608.9,90.9L611.7,92.0" stroke-width="2.2"/>
<path d="M686.6,71.3L688.3,69.5L690.1,68.0L692.5,66.6L697.2,66.2L703.1,65.6L707.9,65.4L710.9,63.6L713.2,61.6L714.4,60.0L716.2,57.7L718.6,55.9L722.1,54.5L724.5,54.1L726.9,54.7L729.8,52.9L734.0,51.7L738.7,50.6L743.4,50.9L745.8,50.0L747.0,47.6L750.6,46.4L754.1,46.2L757.7,45.2L761.2,42.9L763.6,41.7L764.8,38.7L766.6,36.9L769.5,36.3L770.1,34.0L768.3,32.4L764.8,32.4L761.8,33.4L760.6,35.5"/>
<path d="M696.6,59.8L700.8,60.0L706.7,59.8L713.2,59.4L714.4,60.0"/>
<path d="M707.3,92.6L708.5,90.3L712.0,89.4L716.2,89.9L718.2,92.0L718.0,95.0L716.2,97.4L714.4,99.1L712.0,100.3L709.7,99.1L708.5,96.8L709.3,95.0L707.9,93.8Z"/>
<path d="M811.0,51.4L807.4,53.5L803.9,56.1L800.9,58.9L798.6,62.4L795.6,65.4L792.6,68.3L790.3,71.9L788.5,75.4L785.5,79.0L782.0,82.6L777.8,86.1L773.7,89.7L769.5,92.6L766.0,96.2L762.4,99.7L758.9,102.1L756.5,102.8"/>
<path d="M816.9,31.0L816.3,35.7L815.1,39.3L813.6,42.9L812.8,46.4L811.9,49.4L811.0,51.4"/>
<path d="M837.7,31.0L837.1,36.9L835.3,42.9L833.5,46.4L836.5,51.1L838.3,55.9L836.5,60.6L835.3,65.4L836.5,70.1L834.1,74.9L834.7,78.4L836.5,82.6L838.9,79.6L841.2,74.9L843.0,72.5L846.6,72.2L850.1,72.7L852.5,73.7L853.9,76.6L854.3,80.8L855.4,78.4L855.8,75.4L854.6,71.9L851.9,71.9L850.1,70.1L848.9,66.6L846.6,64.2L843.6,61.2L842.4,57.1L843.2,52.3L845.4,47.6L847.1,43.4L848.9,41.1L851.9,39.5L856.0,39.3L860.8,39.9L864.3,41.7L867.9,44.0L870.3,47.0L869.7,45.2L866.7,42.3L864.9,39.3L863.7,35.7L862.6,31.0"/>
<path d="M930.1,86.7L933.1,84.3L936.6,82.2L938.1,82.6L935.4,84.9L931.9,87.3Z" stroke-width="1.05"/>
<path d="M615.7,117.0L617.6,117.5" stroke-width="2"/>
<path d="M640.1,111.1L643.3,112.5" stroke-width="2.4"/>
<path d="M666.6,109.9L669.4,107.1" stroke-width="2.2"/>
<path d="M617.6,151.6L622.8,149.9" stroke-width="2"/>
<path d="M556.2,156.9L559.7,155.1L563.3,151.6L566.9,148.0L569.8,146.6L574.0,146.3L578.1,146.9L578.1,145.1L579.3,147.4L582.9,148.6L583.4,150.4L581.7,154.6L578.7,158.1L575.1,160.5L573.4,162.3L574.0,164.6L571.6,164.0L571.0,165.8L574.0,166.4L578.1,165.8L575.1,167.6L576.3,170.6L572.8,171.1L569.2,171.7L569.8,174.1L570.4,175.5"/>
<path d="M572.8,171.1L576.3,171.7L579.9,169.4L584.6,166.4L590.6,163.4L596.5,161.1L602.4,159.9L608.3,159.3L610.1,158.7L611.9,160.5L615.4,161.7L619.0,162.9L622.6,164.0L624.9,162.9L626.1,164.0L624.3,165.8L623.7,168.8L622.0,171.7L621.4,174.1L623.1,175.5"/>
<path d="M683.0,132.0L680.6,135.0L678.3,138.6L679.4,142.1L678.9,146.3L675.9,148.6L672.3,150.4L668.8,152.8L665.2,155.1L661.7,156.9L656.9,158.1L653.4,159.9L651.0,162.3L651.0,165.8L649.2,167.6L651.0,169.4L654.6,171.7L658.1,174.1L660.5,175.5"/>
<path d="M683.0,132.0L686.6,129.7L690.1,127.9L691.9,126.1L691.3,124.3L694.3,124.9L697.8,124.9L700.8,122.0L703.7,119.0L705.5,116.0L708.5,115.4L711.4,116.6L712.0,120.8L715.0,121.4L718.6,122.6L722.1,124.3L725.7,122.6L731.6,121.4L736.3,119.0L742.3,116.0L747.0,113.1L749.4,110.7L751.7,108.9L754.1,106.0L756.5,103.0"/>
<path d="M803.3,130.9L803.4,131.0" stroke-width="2.4"/>
<path d="M879.7,110.5L882.1,108.1L885.7,104.6L888.6,101.0L892.2,101.0L894.0,101.6L891.6,102.5L888.6,102.8L886.3,105.7L883.3,108.7L880.9,110.8Z" stroke-width="1.0"/>
<path d="M894.9,109.4L898.5,109.7" stroke-width="2.4"/>
<path d="M898.1,101.0L901.7,97.4L905.8,94.5L909.4,92.1L911.7,89.1L912.9,90.3L915.3,91.2L918.9,89.1L921.8,87.6L923.4,88.6L922.4,90.0L918.9,90.9L915.9,92.3L912.9,93.5L910.0,93.1L907.0,95.7L902.9,98.6L899.3,101.4Z" stroke-width="1.05"/>
<path d="M825.5,92.1L825.6,92.2" stroke-width="2.6"/>
<path d="M809.6,150.4L809.2,153.0L810.4,157.8L806.9,158.7L811.0,159.6L811.0,163.7L809.2,168.4L807.4,172.0L805.1,175.6L802.7,179.1L800.9,182.1L798.0,184.4L795.0,186.2L792.0,189.8L788.5,193.3L783.7,195.1L779.0,196.9L775.4,199.3L772.5,198.1L770.7,195.1L772.5,192.7L775.4,190.4L772.5,190.4L768.9,192.1L767.7,194.5L768.9,197.5L767.1,200.4L764.2,204.0L761.2,207.0L758.9,209.9L758.9,212.5"/>
<path d="M787.3,185.6L789.1,182.1L790.9,179.7L791.4,182.1L790.3,184.4L788.5,186.2Z"/>
<path d="M828.5,150.1L830.0,151.3L832.9,153.0L835.3,157.8L836.5,163.7L835.3,167.9L832.9,170.8L830.6,174.4L828.8,177.9L829.4,179.7L826.4,178.5L823.4,180.3L821.7,182.7L822.9,186.2L824.0,189.8L823.4,193.9"/>
<path d="M694.9,229.6L698.4,227.9L703.1,225.5L706.7,223.1L711.4,220.1L715.6,217.2L718.6,215.4L722.1,214.8L724.5,215.4L730.4,214.8L736.3,214.2L742.3,213.3L747.0,212.4L749.4,213.0L751.1,214.8L754.1,215.4L757.7,214.2L760.0,212.4L760.6,210.1L759.4,208.3L761.8,205.9L764.8,203.6L767.1,201.2L768.3,200.0L768.9,198.2"/>
<path d="M724.2,205.9L724.4,206.0" stroke-width="3"/>
<path d="M694.9,229.6L693.7,231.1L694.9,232.0L698.4,233.8L703.1,234.4L707.9,233.2L711.4,232.6L712.6,230.8L715.0,230.2L718.6,229.6L723.3,228.4L728.0,227.9L731.6,226.7L735.1,225.5L739.9,224.7L744.6,224.9L748.2,226.1L751.1,226.7L751.7,228.4L749.4,230.2L747.6,232.0L748.2,235.0L750.0,237.9L752.9,240.3L755.9,241.5L758.9,240.3L760.6,237.3L763.6,234.4L766.0,232.0L769.5,230.8L771.3,228.4L768.3,227.3L766.6,224.9L767.7,222.5L770.1,221.9L771.9,224.9L775.4,225.5L780.2,225.5L784.9,226.7L787.9,226.1L789.7,223.1L792.6,221.3L795.0,223.1L796.2,226.1L798.6,223.1L799.7,220.1L802.7,218.4"/>
<path d="M757.1,221.9L760.6,217.2L762.2,217.8L760.0,220.7L758.3,222.5Z"/>
<path d="M555.0,189.6L556.2,189.0L559.7,186.6L564.5,185.4L568.0,186.6L571.6,188.4L575.1,190.1L578.7,190.7L582.3,190.1L585.8,191.3L588.8,191.3L587.0,193.7L586.4,196.7L584.0,197.9L581.7,196.7L578.7,197.9L575.1,199.0L571.6,200.2L568.0,201.4L565.7,202.0L563.9,204.4L562.1,206.7L559.7,207.3L557.4,207.9L556.2,209.7L555.0,210.9"/>
<path d="M570.4,168.8L568.6,173.0L570.4,174.1L574.0,173.0L577.5,171.2L580.5,170.0L576.3,167.0"/>
<path d="M623.1,168.2L622.6,170.0L620.8,172.4L620.2,174.7L623.1,175.0L626.1,175.3L622.6,175.9L619.0,177.1L617.2,180.1L614.9,181.9L617.8,181.9L619.6,183.6L622.0,186.0L624.9,185.4L627.3,183.6L630.9,184.8L633.8,185.4L636.8,186.6L638.0,185.4L639.7,187.2L642.1,189.0L640.3,190.1L639.7,193.1L642.7,195.5L643.3,197.9L640.3,197.9L638.0,196.7L635.6,197.9L633.2,199.0L635.0,201.4L637.4,202.0L636.8,204.4L638.6,206.7L641.5,208.5L640.9,210.9L639.1,213.3L638.0,215.6L636.8,218.6L635.6,221.0L636.8,223.3L637.4,226.3L635.6,228.1L633.2,229.3L635.6,229.9L638.0,230.4L639.7,228.1L642.7,228.1L645.1,226.3L648.6,225.7L651.0,223.9L653.4,223.3L655.7,222.7L658.1,222.7L660.5,222.1L662.9,221.6L664.0,223.9L665.8,222.1L667.6,221.0L670.6,220.4L673.5,218.0L675.3,215.0L676.5,211.5L676.5,207.9L675.3,203.2L675.3,198.4L673.5,193.7L671.1,189.6L668.2,185.4L665.2,181.9L662.9,177.7L660.5,174.7L656.9,172.4L654.6,170.0L652.2,168.2"/>
<path d="M672.3,232.8L673.5,229.3L675.3,225.7L676.5,226.9L674.7,230.4L673.5,233.4Z" stroke-width="1.6"/>
<path d="M678.3,237.6L678.5,237.8" stroke-width="2.4"/>
<path d="M556.2,229.3L558.0,234.0L559.7,238.7L561.5,242.5"/>
<path d="M633.2,243.3L635.0,241.3L638.6,240.5L642.1,240.5L643.9,241.7L642.7,243.7L639.7,244.9L636.2,245.2L633.8,244.5Z"/>
<path d="M559.7,236.0L562.1,239.6L564.5,244.3L566.9,247.9L566.3,251.4L569.2,253.8L572.8,255.6L574.6,259.1L577.5,261.5L579.3,263.9L577.5,266.2L574.0,265.0L571.0,263.9L569.8,262.7L572.2,264.4L575.1,266.6L578.1,267.1L579.3,271.6L578.1,274.5L575.1,275.7L571.6,277.5L568.0,279.3L565.1,281.0L562.1,281.6L558.6,282.8L555.0,283.6"/>
<path d="M571.0,263.3L566.9,261.5L563.3,259.7L559.7,260.3L555.0,261.8"/>
<path d="M555.0,266.2L557.4,266.8L559.7,268.0L560.9,269.8L562.1,271.6L559.7,272.7L556.2,273.9L555.0,274.2"/>
<path d="M564.2,267.8L564.5,267.9" stroke-width="2"/>
<path d="M560.3,271.6L560.6,271.7" stroke-width="2"/>
<path d="M562.7,282.8L563.9,284.6L566.9,284.0L570.4,282.2L573.4,282.8L575.7,285.2L578.1,287.0L580.5,285.2L579.9,283.4L582.9,284.6L584.6,285.8L581.7,287.6L578.7,288.7L579.9,291.7L578.1,293.5L574.6,292.3L575.1,295.3L578.7,295.9L576.3,298.2L574.0,300.6L575.1,303.6L571.6,305.3L569.2,307.1L568.0,308.5"/>
<path d="M665.0,251.6L667.0,250.8" stroke-width="2.6"/>
<path d="M669.7,248.4L671.4,246.7" stroke-width="2.4"/>
<path d="M576.9,300.0L575.7,303.6L576.3,307.1L573.4,308.3L571.0,307.1L569.8,310.1L567.4,309.5L565.1,311.9L562.1,312.4L563.3,315.4L560.9,317.8L559.1,321.3L557.4,324.3L556.2,326.7L555.0,329.6"/>
<path d="M652.9,335.6L654.3,332.9L656.5,330.3L658.8,328.2L661.2,326.1" stroke-width="2.6"/>
<path d="M655.1,331.1L657.2,331.1" stroke-width="2.2"/>
<path d="M672.6,309.0L675.3,306.9L678.3,305.1" stroke-width="2.6"/>
<path d="M668.8,314.0L668.9,314.1" stroke-width="2.6"/>
<path d="M602.2,358.4L604.2,358.3" stroke-width="3"/>
<path d="M606.9,357.6L608.6,356.7L609.5,355.5" stroke-width="2.6"/>
<path d="M622.0,351.6L624.3,353.3" stroke-width="2.4"/>
<path d="M574.3,345.6L577.2,347.2L579.7,348.7L578.8,351.8L577.8,356.1L575.9,361.1L574.3,366.7L572.8,372.3L570.3,377.2L567.9,381.0L566.4,384.7L565.6,389.0L564.1,389.0L563.5,385.9L561.0,383.4L558.6,381.0L556.9,377.2L556.2,372.3L556.7,366.7L559.8,361.1L563.5,354.9L567.2,349.9L571.0,347.4Z"/>
<path d="M664.4,251.6L667.6,250.8" stroke-width="3"/>
<path d="M670.0,248.2L671.3,246.4" stroke-width="2.6"/>
<path d="M693.8,280.9L694.7,278.1L696.1,275.8L696.3,276.7L695.2,279.5L694.3,281.4Z" stroke-width="1.6"/>
<path d="M690.3,281.6L689.9,282.6L688.9,282.9L687.9,282.6L687.5,281.6L687.9,280.5L688.9,280.2L689.9,280.5Z"/>
<path d="M668.9,314.3L669.0,314.4" stroke-width="2.8"/>
<path d="M614.9,181.9L619.6,183.6L622.0,186.0L624.9,185.4" stroke-width="2.2"/>
<path d="M633.8,185.4L638.0,185.4L642.1,189.0L640.3,193.1L643.3,197.9" stroke-width="1.8"/>
<path d="M643.3,197.9L638.0,196.7L633.2,199.0L635.6,202.0" stroke-width="2.4"/>
<path d="M636.8,204.4L641.5,208.5L638.0,215.6L635.6,221.0L637.4,226.3L633.2,229.3" stroke-width="2.2"/>
<path d="M638.0,230.4L642.7,228.1L648.6,225.7L655.7,222.7L662.9,221.6L665.8,222.1" stroke-width="2.8"/>
<path d="M645.1,228.1L649.8,226.7L654.6,224.8" stroke-width="2.0"/>
<path d="M834.7,87.6L838.3,90.3L841.8,94.5L845.4,98.0L848.9,100.4L852.5,102.8L856.0,104.2L859.6,105.4L863.1,106.3L865.5,107.5L869.1,108.1L872.6,106.9L875.6,105.1L878.0,103.4L878.6,104.6L876.8,107.5L875.6,110.5L877.4,112.9L878.0,115.2L880.9,116.1L883.9,115.2L882.1,116.8L879.1,117.9L875.6,118.8L872.6,120.0L869.1,120.6L865.5,120.3L862.0,121.1L858.4,123.5L855.4,126.5L853.1,130.0L851.9,133.4L848.3,132.0L843.9,130.2L839.4,128.0L835.0,125.7L832.0,124.6L829.8,124.4L826.9,125.4L824.3,126.9L822.0,128.0L820.2,126.5L818.0,125.4L815.4,125.6L813.9,126.9L814.3,128.7L816.1,129.8L818.7,130.9L820.9,132.4L823.1,133.5L824.6,135.0L822.8,135.7L820.2,135.0L818.0,135.4L816.1,136.9L813.9,138.7L811.7,139.8L810.2,138.3L810.6,136.1L809.8,133.5L810.2,131.3L808.7,129.4L807.6,127.2L808.3,125.0L810.6,123.1L813.1,121.7L815.7,119.4L814.6,117.6L814.6,115.7L817.2,115.4L820.6,116.5L823.5,117.2L826.1,118.0L828.0,116.1L827.6,113.1L828.0,110.2L830.6,108.0L831.3,105.0L832.1,102.8L832.9,98.0L831.7,93.3L831.1,89.7Z"/>
<path d="M808.3,152.4L809.4,150.0L810.9,148.0L813.5,145.7L813.9,143.5L815.4,142.8L817.2,143.1L818.3,145.0L819.1,146.9L820.6,147.6L822.8,147.2L824.3,146.1L824.6,143.5L823.9,141.3L822.4,139.8L821.3,138.7L823.5,139.1L826.1,139.8L828.3,140.2L828.7,142.8L828.3,146.5L828.3,150.0L828.2,152.4"/>
<path d="M819.4,142.0L820.9,143.5L821.3,145.4" stroke-width="1.6"/>
<path d="M803.0,130.4L803.3,130.7" stroke-width="2.6"/>
<path d="M578.7,288.7L579.9,291.7L578.1,293.5L575.1,295.3L578.7,295.9L576.3,298.2L574.0,300.6L575.1,303.6L571.6,305.3" stroke-width="2.0"/>
<path d="M576.3,307.1L573.4,308.3L571.0,307.1L569.8,310.1L567.4,309.5L565.1,311.9L562.1,312.4L563.3,315.4" stroke-width="1.9"/>
<path d="M712.4,240.9L714.6,238.7L716.9,235.7L719.1,233.5L720.9,233.1L722.8,234.6L725.7,235.0L728.7,233.5L730.6,231.7L729.4,230.2L730.9,228.7L733.1,228.0L734.6,229.1L736.9,228.3L739.1,227.6L740.6,228.7L742.0,229.8L743.5,230.9L742.8,232.4L741.3,233.5L741.7,235.4L742.4,236.9L741.3,238.3L739.4,239.8L737.6,241.3L736.1,243.5L735.4,244.6L734.3,243.1L732.8,241.7L730.6,240.6L728.0,240.6L726.1,241.7L724.6,243.5L723.1,245.4L721.7,247.2L720.6,249.4L720.6,251.3L718.7,250.6L716.9,249.4L715.0,248.3L713.9,246.5L713.1,244.6L712.8,242.8Z"/>
<path d="M729.4,230.2L730.9,228.7L733.1,228.0L734.6,229.1L736.9,228.3L739.1,227.6L740.6,228.7" stroke-width="1.8"/>
<path d="M679.4,241.6L681.6,240.1L684.2,238.7L686.8,237.2L689.4,236.1L692.0,235.7L694.2,235.3L695.7,236.1L696.4,237.9L697.9,239.4L700.5,239.8L703.1,239.4L704.6,240.9L703.9,243.1L702.0,243.5L703.9,244.6L706.1,245.7L707.9,247.2L708.3,249.0L706.8,250.9L705.0,252.4L703.9,254.6L702.7,257.2L702.0,259.8L701.6,262.4L700.5,265.0L699.4,267.0L698.9,266.6L697.0,268.4L695.2,269.3L693.8,271.2L691.9,272.6L690.6,273.0L690.1,270.7L691.9,268.9L692.4,266.6L691.5,264.2L690.1,264.7L689.6,267.0L688.7,269.3L686.9,269.8L685.0,268.9L684.5,267.0L685.7,265.3L685.0,263.1L685.3,260.9L686.4,259.0L684.6,259.0L683.1,257.9L683.9,256.4L685.7,256.8L687.6,256.1L689.4,254.6L690.1,252.4L689.4,249.8L687.9,247.6L686.1,246.4L684.2,247.2L684.6,249.4L683.1,251.6L681.6,253.1L679.4,252.4L679.8,250.5L677.9,249.0L679.0,247.6L678.3,245.7L675.7,245.3L675.0,243.9L677.2,243.1Z"/>
<path d="M675.0,243.9L678.3,245.7L679.0,247.6L677.9,249.0L679.8,250.5L679.4,252.4L681.6,253.1" stroke-width="2.6"/>
<path d="M683.1,251.6L684.6,249.4L684.2,247.2L686.1,246.4L687.9,247.6L689.4,249.8L690.1,252.4L689.4,254.6L687.6,256.1L685.7,256.8L683.9,256.4" stroke-width="2.4"/>
<path d="M680.9,246.4L682.7,247.9L682.4,250.1" stroke-width="2.2"/>
<path d="M686.1,250.1L687.2,252.4L686.4,254.6" stroke-width="2.2"/>
<path d="M683.1,257.9L684.6,259.0L686.4,259.0L685.3,260.9" stroke-width="2.2"/>
<path d="M674.2,225.7L676.1,226.4" stroke-width="3"/>
<path d="M673.1,230.1L673.5,232.4" stroke-width="3"/>
<path d="M678.5,237.6L678.6,237.6" stroke-width="3"/>
<path d="M690.4,264.1L691.0,264.6" stroke-width="3"/>
<path d="M802.0,218.3L804.3,218.7L806.1,219.8L806.9,221.7L808.0,223.1L809.4,222.4L810.9,220.9L813.1,220.2L814.6,219.1L815.4,217.2L816.1,215.4L817.6,213.9L819.1,212.8L821.3,212.8L819.8,210.6L818.3,208.7L817.6,206.1L818.3,203.1L819.4,200.2L821.3,197.2L823.5,195.0L823.4,193.9"/>
<path d="M806.1,219.8L806.5,217.2L808.0,214.6L809.8,213.5L811.3,214.4L810.6,216.5L809.4,218.7L808.6,220.9L808.0,223.0"/>
<path d="M813.1,208.3L815.4,209.1" stroke-width="2.4"/>
</g>
<path d="M149.5,31.5V414.35M213.5,31.5V414.35M277.5,31.5V414.35M340.5,31.5V414.35M404.5,31.5V414.35M85.5,349.5H468.5M85.5,285.5H468.5M85.5,222.5H468.5M85.5,158.5H468.5M85.5,94.5H468.5" stroke="#808080" stroke-opacity="0.5" stroke-width="1" fill="none"/>
</g>
<rect x="85.5" y="31.5" width="383.0" height="382.9" fill="none" stroke="#000" stroke-width="1"/>
<text x="149.3" y="424.8" font-size="8.3" text-anchor="middle" class="cn">125°E</text>
<text x="213.2" y="424.8" font-size="8.3" text-anchor="middle" class="cn">130°E</text>
<text x="277.0" y="424.8" font-size="8.3" text-anchor="middle" class="cn">135°E</text>
<text x="340.8" y="424.8" font-size="8.3" text-anchor="middle" class="cn">140°E</text>
<text x="404.7" y="424.8" font-size="8.3" text-anchor="middle" class="cn">145°E</text>
<text x="79.6" y="351.9" font-size="8.3" text-anchor="end" class="cn">25°N</text>
<text x="79.6" y="288.1" font-size="8.3" text-anchor="end" class="cn">30°N</text>
<text x="79.6" y="224.4" font-size="8.3" text-anchor="end" class="cn">35°N</text>
<text x="79.6" y="160.7" font-size="8.3" text-anchor="end" class="cn">40°N</text>
<text x="79.6" y="96.9" font-size="8.3" text-anchor="end" class="cn">45°N</text>
<g clip-path="url(#clipR)">
<rect x="555.5" y="31.5" width="383.0" height="382.9" fill="#fff"/>
<clipPath id="band"><path d="M804.8,93.1L811.0,91.5L818.1,89.7L830.6,89.7L838.3,93.3L858.4,93.3L872.6,93.3L875.0,94.5L889.2,96.9L894.0,97.4L901.1,102.8L904.6,108.7L905.2,114.6L904.6,124.1L902.3,132.4L898.7,137.1L894.0,140.7L886.9,144.3L882.1,146.6L873.8,147.2L858.4,147.8L851.3,149.6L847.7,153.7L846.6,157.0L848.3,158.9L851.1,163.5L854.8,168.1L856.9,174.8L855.9,184.1L853.1,192.4L847.6,198.0L844.8,204.4L843.9,213.7L843.0,219.3L837.4,226.7L830.0,233.1L822.6,237.8L815.2,242.4L807.8,247.0L800.4,250.7L792.6,252.8L785.2,252.8L777.8,250.9L772.2,253.7L766.7,259.3L761.1,264.8L755.6,268.5L748.1,269.4L740.7,269.4L733.3,270.4L728.7,273.1L725.9,277.8L725.9,283.3L722.2,288.9L718.5,294.4L713.0,300.9L709.7,305.6L706.9,311.1L706.0,316.7L704.1,322.2L698.6,326.9L691.2,331.5L685.6,336.1L683.8,340.7L681.9,346.3L677.3,350.9L672.7,355.6L667.1,359.3L661.6,361.1L654.1,362.0L646.7,361.1L640.3,360.2L637.5,363.0L635.6,368.5L631.9,374.1L627.3,378.7L620.8,382.4L613.4,384.3L606.0,384.3L598.6,383.0L592.1,379.6L586.6,375.0L581.9,369.4L579.1,363.0L578.2,355.6L579.1,348.1L580.1,343.5L583.8,338.0L589.3,334.3L596.7,331.5L604.1,329.6L611.6,330.6L619.0,329.6L623.6,325.9L629.1,321.3L633.8,316.7L638.4,311.1L640.7,306.5L644.4,300.0L648.1,293.5L653.7,288.0L659.3,282.4L662.0,277.8L663.0,272.2L663.9,264.8L663.0,259.3L660.2,253.7L658.3,248.1L655.6,242.6L655.6,235.2L657.4,227.8L663.0,222.2L670.4,218.5L674.1,215.7L679.6,213.9L683.7,212.8L689.3,208.1L693.0,202.6L694.8,197.0L700.4,193.3L707.8,190.6L715.2,189.6L724.4,187.8L733.7,185.9L739.3,183.1L746.7,182.2L751.1,181.1L760.4,179.3L764.1,175.6L767.8,170.9L773.3,168.1L776.1,164.4L776.1,157.0L778.9,149.6L781.7,142.2L782.6,134.8L783.5,125.6L785.4,118.1L786.3,108.9L790.9,103.3L797.4,97.8Z"/></clipPath>
<path d="M804.8,93.1L811.0,91.5L818.1,89.7L830.6,89.7L838.3,93.3L858.4,93.3L872.6,93.3L875.0,94.5L889.2,96.9L894.0,97.4L901.1,102.8L904.6,108.7L905.2,114.6L904.6,124.1L902.3,132.4L898.7,137.1L894.0,140.7L886.9,144.3L882.1,146.6L873.8,147.2L858.4,147.8L851.3,149.6L847.7,153.7L846.6,157.0L848.3,158.9L851.1,163.5L854.8,168.1L856.9,174.8L855.9,184.1L853.1,192.4L847.6,198.0L844.8,204.4L843.9,213.7L843.0,219.3L837.4,226.7L830.0,233.1L822.6,237.8L815.2,242.4L807.8,247.0L800.4,250.7L792.6,252.8L785.2,252.8L777.8,250.9L772.2,253.7L766.7,259.3L761.1,264.8L755.6,268.5L748.1,269.4L740.7,269.4L733.3,270.4L728.7,273.1L725.9,277.8L725.9,283.3L722.2,288.9L718.5,294.4L713.0,300.9L709.7,305.6L706.9,311.1L706.0,316.7L704.1,322.2L698.6,326.9L691.2,331.5L685.6,336.1L683.8,340.7L681.9,346.3L677.3,350.9L672.7,355.6L667.1,359.3L661.6,361.1L654.1,362.0L646.7,361.1L640.3,360.2L637.5,363.0L635.6,368.5L631.9,374.1L627.3,378.7L620.8,382.4L613.4,384.3L606.0,384.3L598.6,383.0L592.1,379.6L586.6,375.0L581.9,369.4L579.1,363.0L578.2,355.6L579.1,348.1L580.1,343.5L583.8,338.0L589.3,334.3L596.7,331.5L604.1,329.6L611.6,330.6L619.0,329.6L623.6,325.9L629.1,321.3L633.8,316.7L638.4,311.1L640.7,306.5L644.4,300.0L648.1,293.5L653.7,288.0L659.3,282.4L662.0,277.8L663.0,272.2L663.9,264.8L663.0,259.3L660.2,253.7L658.3,248.1L655.6,242.6L655.6,235.2L657.4,227.8L663.0,222.2L670.4,218.5L674.1,215.7L679.6,213.9L683.7,212.8L689.3,208.1L693.0,202.6L694.8,197.0L700.4,193.3L707.8,190.6L715.2,189.6L724.4,187.8L733.7,185.9L739.3,183.1L746.7,182.2L751.1,181.1L760.4,179.3L764.1,175.6L767.8,170.9L773.3,168.1L776.1,164.4L776.1,157.0L778.9,149.6L781.7,142.2L782.6,134.8L783.5,125.6L785.4,118.1L786.3,108.9L790.9,103.3L797.4,97.8Z" fill="#ffe6ba"/>
<g clip-path="url(#band)">
<path d="M848.0,127.5L845.5,127.3L841.1,124.0L837.5,120.4L835.5,117.5L831.4,116.5L829.6,115.5L828.5,113.6L828.5,112.0L830.1,110.0L831.5,109.5L833.5,110.6L835.5,114.0L836.5,114.4L839.0,114.3L841.5,112.5L843.6,108.0L845.0,106.5L849.9,103.0L852.5,102.5L853.7,103.5L853.2,106.0L853.4,106.5L859.3,108.5L865.4,112.0L868.5,114.6L869.5,116.5L868.0,118.3L863.5,119.6L858.0,122.1L856.0,123.5L853.5,126.1ZM818.0,136.0L817.0,136.0L816.5,135.5L817.2,134.0L820.0,132.3L821.9,132.5L820.8,134.5ZM822.5,175.0L819.5,175.1L816.8,173.5L816.7,171.0L818.2,168.5L821.5,167.8L823.0,168.2L823.8,169.0L824.5,173.0L824.0,174.0ZM748.0,201.5L741.0,201.0L739.5,199.8L738.4,197.0L738.7,195.0L740.4,193.0L746.5,190.0L747.5,190.3L751.0,192.5L752.8,196.5L752.0,198.6ZM804.0,204.5L802.0,204.7L801.2,204.0L801.0,201.8L801.9,200.0L807.4,195.5L809.9,194.0L813.0,193.1L814.9,193.5L814.5,196.0L812.9,198.5L807.5,203.0ZM795.0,235.1L788.1,232.5L787.3,231.0L787.3,227.5L786.5,226.7L782.2,226.0L775.1,223.5L775.3,219.0L774.4,213.0L775.1,211.5L779.5,209.3L781.6,207.0L786.0,205.7L790.0,202.5L793.5,201.6L795.5,202.2L801.3,209.0L801.7,212.5L804.0,217.0L797.3,224.5L798.3,227.5L798.1,229.5L796.0,234.3ZM736.0,245.0L732.0,245.0L722.5,241.8L720.1,240.5L717.2,237.0L716.5,235.0L717.0,233.6L722.0,231.8L723.5,231.8L726.5,230.4L725.5,230.9L723.5,230.6L722.0,231.2L717.5,231.6L714.5,233.4L707.5,233.2L701.5,234.0L696.0,233.3L694.6,232.5L694.2,231.5L695.1,230.0L698.8,227.0L704.7,223.5L714.0,219.1L723.4,216.0L734.0,213.7L740.5,213.5L749.0,214.0L755.5,215.7L757.3,217.5L758.0,219.5L757.8,220.5L756.5,221.8L738.5,227.2L734.2,229.0L743.0,230.7L745.4,232.0L746.5,234.0L746.5,235.0L745.0,237.8L741.5,242.4L739.0,244.1ZM756.0,237.6L754.5,237.6L753.4,237.0L752.5,235.5L752.4,234.0L753.9,231.5L756.5,230.3L757.5,230.8L758.5,232.1L759.1,234.5L758.0,236.5ZM698.0,263.5L695.5,263.5L694.5,262.9L693.5,261.7L691.7,257.5L690.4,253.0L690.5,244.0L692.0,240.6L696.0,238.0L697.5,237.7L702.0,238.0L703.9,239.0L705.8,241.5L706.5,243.5L706.5,248.0L705.6,252.5L702.0,260.7L701.0,261.8ZM722.0,277.1L720.6,276.0L720.2,274.0L720.6,271.5L722.0,270.3L723.5,271.3L724.0,273.5L723.5,275.8ZM690.0,310.6L688.0,310.2L686.5,308.5L686.4,304.0L684.4,302.0L682.5,298.0L680.5,296.1L674.0,293.3L668.4,288.0L663.6,284.5L661.5,281.1L662.0,279.2L664.9,278.0L666.1,278.0L669.1,279.0L671.0,280.2L673.5,284.0L674.5,284.6L677.0,285.4L683.0,285.9L691.5,284.3L700.8,281.0L701.4,280.5L699.7,278.0L699.8,276.5L701.0,275.4L703.0,275.0L705.0,275.8L705.9,277.5L705.5,279.6L702.9,281.5L704.5,283.2L707.0,283.4L710.5,282.5L713.0,282.4L722.5,285.7L723.8,286.5L724.0,288.6L721.5,292.9L712.1,300.5L709.7,303.0L708.0,305.7L701.5,308.2L697.5,308.5L694.0,309.8ZM713.0,279.5L711.5,279.5L710.4,278.5L710.5,277.0L712.0,275.8L713.4,276.0L714.2,277.0L714.1,278.5ZM708.1,298.5L709.7,297.0L710.8,294.5L710.2,292.5L708.6,290.0L707.5,289.3L705.5,289.2L701.5,290.7L700.8,291.5L700.2,294.0L700.3,295.5L701.5,297.3L704.7,298.5L707.0,298.8ZM652.0,299.0L650.0,299.2L648.5,298.1L648.2,297.0L649.0,295.6L651.0,294.9L652.5,295.6L653.0,297.5ZM666.5,310.1L662.1,309.0L660.9,308.0L660.3,306.5L660.3,304.0L661.0,301.7L663.0,299.7L665.0,298.7L666.5,298.8L668.0,300.0L669.7,303.0L669.0,307.2L668.0,309.0ZM608.0,387.6L600.0,389.3L599.0,389.0L597.2,385.0L595.5,382.5L591.5,384.1L590.5,384.0L589.5,383.3L588.7,381.0L589.2,377.5L588.5,376.8L585.5,375.7L583.7,373.5L580.2,365.5L578.8,360.5L576.6,355.5L576.4,353.0L577.2,349.5L579.2,346.5L581.7,341.0L585.9,336.0L585.9,333.5L590.5,331.1L592.5,331.0L596.0,331.8L600.0,329.9L607.0,330.0L611.5,330.9L617.5,329.5L621.0,330.8L625.0,327.6L634.5,318.0L637.1,314.5L639.0,313.0L641.1,313.0L644.4,314.5L648.3,318.5L651.2,323.5L653.0,324.4L656.5,323.8L659.6,322.0L659.9,321.5L659.0,318.0L659.4,316.5L660.4,315.5L663.0,314.7L665.0,315.2L666.4,318.0L670.1,320.0L670.5,321.0L669.0,323.4L664.0,329.0L663.2,331.0L664.7,333.5L667.0,335.4L676.6,338.0L678.5,339.3L679.0,340.5L679.0,343.0L678.3,345.5L676.0,349.9L672.9,353.0L665.0,358.8L659.5,361.5L654.0,362.0L645.0,360.6L641.5,360.5L639.5,358.9L637.0,354.9L636.6,356.0L637.5,363.0L636.3,368.5L635.5,369.9L628.0,377.9L624.2,380.5L620.5,382.3L612.5,384.3ZM682.0,326.6L680.3,326.5L679.0,325.6L678.5,322.5L679.2,321.0L680.2,320.0L682.0,319.3L683.5,319.3L685.1,320.5L685.3,323.5L684.2,325.5ZM613.8,377.5L615.2,376.0L616.7,372.5L618.5,363.4L619.1,364.0L619.8,370.5L621.3,374.0L623.5,375.7L625.5,375.8L629.5,373.3L632.2,370.0L634.2,366.0L634.8,363.5L634.7,360.5L634.2,358.5L632.8,356.0L630.5,353.8L628.5,353.2L624.0,353.2L621.0,354.3L619.8,355.5L619.0,359.4L618.5,359.6L617.2,353.5L615.8,351.0L611.4,347.5L609.5,344.9L608.0,344.2L606.0,344.2L604.7,345.0L603.3,347.5L602.2,352.5L602.2,359.0L603.8,370.0L605.1,372.5L610.5,374.8L612.5,377.9ZM595.9,362.0L597.8,360.5L599.2,358.0L599.4,356.0L598.3,353.5L596.0,351.8L592.5,351.2L589.0,351.8L587.8,352.5L586.8,354.5L586.7,356.5L587.3,359.0L588.5,361.2L590.5,362.3ZM626.5,368.5L625.2,368.5L624.2,367.5L623.6,362.0L624.5,358.8L625.5,357.7L627.0,357.2L628.0,357.6L629.0,359.0L629.5,362.5L628.9,366.0Z" fill="#dcffc8" fill-rule="evenodd"/>
<path d="M849.0,120.6L846.5,120.7L843.8,119.0L842.7,116.5L843.5,114.4L845.0,113.5L847.0,113.2L849.0,113.4L851.0,114.5L853.5,113.3L855.5,113.0L857.5,113.2L858.7,114.0L858.6,115.0L857.0,115.9L852.0,116.0L851.1,119.0ZM863.5,116.6L861.5,116.4L860.5,115.5L860.5,114.0L861.5,113.0L863.5,112.7L865.2,114.0L865.2,115.5ZM797.5,215.2L792.5,215.7L787.0,214.3L786.0,213.5L785.9,212.0L787.4,207.0L788.7,205.0L790.5,203.7L792.5,203.4L794.5,203.9L797.4,206.5L798.8,208.5L799.1,210.5L798.3,214.5ZM711.0,232.0L704.1,231.0L703.1,230.5L702.6,229.5L709.5,225.8L712.5,222.3L714.5,221.7L717.0,221.9L719.5,220.2L727.6,218.5L734.5,215.4L737.0,215.4L741.5,218.3L743.5,219.0L743.5,220.5L742.7,222.0L734.5,226.5L729.0,227.8L718.5,229.3L714.0,231.5ZM733.5,241.1L732.0,241.1L730.4,240.0L730.0,238.5L731.0,237.3L733.5,236.7L735.0,237.2L736.0,238.0L735.5,239.9ZM698.0,255.5L696.5,255.7L695.0,255.0L693.8,253.5L693.6,252.0L694.2,250.5L696.2,248.5L696.3,244.0L697.0,241.5L697.8,240.5L699.0,240.3L701.0,240.9L702.7,242.5L703.7,249.0L702.6,251.5ZM597.0,337.1L594.5,337.3L592.0,336.8L589.7,335.5L588.9,334.0L589.8,333.0L591.1,332.5L593.0,332.6L597.0,334.2L597.5,334.2L599.5,332.0L601.0,331.9L601.9,332.5L602.4,334.0L601.5,335.9L600.0,336.5L598.5,336.3ZM615.0,347.8L614.0,347.8L612.2,346.5L609.8,342.5L609.1,339.0L610.0,336.2L611.0,336.1L612.5,336.7L613.9,338.0L614.7,339.5L615.9,345.0L615.7,347.0ZM634.0,343.5L632.5,343.7L631.3,343.0L630.8,341.5L631.5,340.0L633.0,339.4L634.5,340.1L635.0,342.0ZM580.0,359.2L578.4,358.0L577.3,354.0L577.9,350.0L579.5,348.4L581.0,350.0L581.7,354.0L581.4,357.5ZM626.5,366.6L625.5,366.2L625.1,365.5L624.7,362.5L625.0,360.5L626.5,359.0L627.9,360.0L628.3,362.0L628.0,364.8ZM588.0,374.6L587.0,374.7L585.5,374.0L584.3,372.5L583.6,370.5L583.9,367.0L586.0,365.4L588.5,366.1L589.9,368.5L589.8,372.0ZM606.5,387.0L600.0,387.3L596.8,382.0L596.1,379.5L596.5,377.5L598.5,375.0L600.5,373.5L602.5,373.2L604.5,373.7L608.5,375.5L610.0,377.0L610.3,383.5L608.5,386.0ZM593.0,382.1L591.5,382.3L590.1,381.0L590.2,379.0L591.5,377.8L593.5,377.9L594.5,379.0L594.3,381.0Z" fill="#96fa96" fill-rule="evenodd"/>
<path d="M848.0,120.0L845.7,119.5L844.0,117.7L843.7,116.0L844.9,114.5L848.0,114.0L849.4,114.5L850.5,115.5L850.9,117.0L850.5,118.4L849.5,119.5ZM856.0,115.5L853.5,115.6L852.3,115.0L853.0,114.2L854.5,113.7L857.6,114.0L857.9,114.5L857.5,115.0ZM863.5,115.6L861.9,115.5L861.5,115.0L861.7,114.0L863.0,113.6L863.9,114.0L864.1,115.0ZM795.0,214.6L792.5,214.6L787.5,212.5L788.4,207.5L790.5,205.0L792.0,204.6L794.0,205.0L796.1,206.5L797.6,208.5L798.0,210.5L797.5,212.6L796.5,213.9ZM716.0,229.1L714.0,229.4L712.0,228.0L711.6,225.5L713.0,223.4L715.0,222.9L717.5,223.7L720.3,221.0L732.0,218.1L734.0,218.2L734.9,219.0L735.2,220.5L734.5,223.1L733.5,224.5L731.9,225.5L729.0,226.7L725.5,227.1L718.5,225.6L717.2,228.0ZM739.0,221.5L737.5,221.5L736.6,220.5L736.4,219.5L737.1,218.5L738.5,218.4L739.5,219.1L739.8,220.5ZM697.5,254.1L695.6,253.5L695.2,252.0L695.6,251.0L697.3,249.5L697.1,246.5L697.7,243.5L698.5,242.5L699.5,242.3L700.9,243.0L701.6,244.0L702.4,249.0L701.5,250.7L699.4,252.0L698.5,253.5ZM614.5,345.6L614.0,346.0L613.0,345.5L611.0,342.7L610.3,339.5L610.5,338.1L611.0,337.7L612.1,338.0L613.5,339.5L614.6,343.0ZM580.0,357.6L579.0,356.9L578.3,354.0L578.5,351.4L579.5,350.1L580.5,351.7L580.8,353.5L580.6,356.5ZM587.5,372.8L586.0,372.6L584.9,371.0L585.0,368.5L586.0,367.4L587.5,367.6L588.5,369.2L588.5,371.3ZM606.5,386.0L601.0,386.0L599.5,384.9L597.8,381.5L597.4,379.0L598.0,377.3L600.0,375.4L602.0,374.6L604.0,374.7L606.5,375.6L608.5,377.1L609.1,379.0L608.7,383.0L607.9,385.0ZM593.0,381.1L592.0,381.4L591.0,380.8L590.9,379.5L591.5,378.8L592.5,378.5L593.3,379.0L593.6,380.0Z" fill="#64ffff" fill-rule="evenodd"/>
<path d="M855.5,114.9L854.2,114.5L856.3,114.5ZM848.5,119.0L847.1,119.0L845.8,118.0L845.3,116.5L846.0,115.5L848.0,115.2L849.4,116.0L849.7,117.5ZM794.0,213.6L791.6,213.0L789.3,211.0L789.5,208.0L791.0,206.3L792.5,206.0L794.0,206.4L795.6,207.5L796.6,209.0L796.8,210.5L796.4,212.0L795.5,213.0ZM728.5,226.0L725.5,226.4L723.0,226.0L720.5,224.9L719.7,223.5L721.0,222.0L725.0,220.7L729.0,220.0L731.9,220.5L732.5,221.5L732.0,223.5L730.7,225.0ZM716.0,228.1L714.5,228.5L712.9,227.5L712.5,226.0L713.5,224.4L715.5,224.1L716.8,225.0L717.0,226.5ZM700.0,249.7L699.0,249.5L698.2,247.5L698.5,245.8L699.5,245.1L700.5,246.0L700.9,247.5L700.7,249.0ZM606.0,384.7L601.5,384.3L600.0,383.2L599.0,381.0L598.7,379.0L599.3,377.5L600.5,376.4L602.0,375.8L604.0,375.7L606.0,376.4L607.5,377.8L608.0,379.0L607.9,381.0L607.0,383.6Z" fill="#00c3ff" fill-rule="evenodd"/>
<path d="M794.0,212.5L792.0,212.0L790.7,210.5L790.5,208.9L791.5,207.5L793.5,207.3L795.5,209.0L795.5,211.4ZM729.5,224.9L726.0,225.8L723.7,225.5L721.9,224.5L721.5,223.5L722.3,222.5L725.0,221.2L728.0,220.7L730.0,221.0L731.0,222.0L730.9,223.5ZM715.5,227.2L714.5,227.5L713.8,227.0L713.6,226.0L714.0,225.3L715.0,225.1L715.8,225.5L716.0,226.5ZM605.0,383.1L602.5,383.0L600.7,381.5L600.1,379.0L601.5,377.2L603.0,376.8L604.5,377.0L606.4,378.5L606.6,381.0L606.0,382.3Z" fill="#0064ff" fill-rule="evenodd"/>
<path d="M794.0,211.5L793.0,211.5L791.9,210.5L791.8,209.0L792.5,208.3L793.8,208.5L794.7,209.5L794.8,210.5ZM727.5,225.1L724.0,225.0L723.1,224.5L722.7,223.5L723.5,222.5L725.5,221.6L728.0,221.3L729.5,221.7L730.1,222.5L730.0,223.5L729.1,224.5ZM604.5,381.1L603.5,381.5L602.3,381.0L601.8,380.0L602.1,379.0L603.0,378.4L604.5,378.9L605.0,380.0Z" fill="#9664ff" fill-rule="evenodd"/>
<path d="M726.5,224.6L725.0,224.5L723.9,223.5L726.0,222.2L728.8,222.5L729.0,223.0L728.5,223.8Z" fill="#dc64ff" fill-rule="evenodd"/>
</g>
<g transform="translate(0.00,0)" fill="none" stroke="#000" stroke-width="1.35" stroke-linejoin="round" stroke-linecap="round">
<path d="M606.6,89.9L608.9,90.9L611.7,92.0" stroke-width="2.2"/>
<path d="M686.6,71.3L688.3,69.5L690.1,68.0L692.5,66.6L697.2,66.2L703.1,65.6L707.9,65.4L710.9,63.6L713.2,61.6L714.4,60.0L716.2,57.7L718.6,55.9L722.1,54.5L724.5,54.1L726.9,54.7L729.8,52.9L734.0,51.7L738.7,50.6L743.4,50.9L745.8,50.0L747.0,47.6L750.6,46.4L754.1,46.2L757.7,45.2L761.2,42.9L763.6,41.7L764.8,38.7L766.6,36.9L769.5,36.3L770.1,34.0L768.3,32.4L764.8,32.4L761.8,33.4L760.6,35.5"/>
<path d="M696.6,59.8L700.8,60.0L706.7,59.8L713.2,59.4L714.4,60.0"/>
<path d="M707.3,92.6L708.5,90.3L712.0,89.4L716.2,89.9L718.2,92.0L718.0,95.0L716.2,97.4L714.4,99.1L712.0,100.3L709.7,99.1L708.5,96.8L709.3,95.0L707.9,93.8Z"/>
<path d="M811.0,51.4L807.4,53.5L803.9,56.1L800.9,58.9L798.6,62.4L795.6,65.4L792.6,68.3L790.3,71.9L788.5,75.4L785.5,79.0L782.0,82.6L777.8,86.1L773.7,89.7L769.5,92.6L766.0,96.2L762.4,99.7L758.9,102.1L756.5,102.8"/>
<path d="M816.9,31.0L816.3,35.7L815.1,39.3L813.6,42.9L812.8,46.4L811.9,49.4L811.0,51.4"/>
<path d="M837.7,31.0L837.1,36.9L835.3,42.9L833.5,46.4L836.5,51.1L838.3,55.9L836.5,60.6L835.3,65.4L836.5,70.1L834.1,74.9L834.7,78.4L836.5,82.6L838.9,79.6L841.2,74.9L843.0,72.5L846.6,72.2L850.1,72.7L852.5,73.7L853.9,76.6L854.3,80.8L855.4,78.4L855.8,75.4L854.6,71.9L851.9,71.9L850.1,70.1L848.9,66.6L846.6,64.2L843.6,61.2L842.4,57.1L843.2,52.3L845.4,47.6L847.1,43.4L848.9,41.1L851.9,39.5L856.0,39.3L860.8,39.9L864.3,41.7L867.9,44.0L870.3,47.0L869.7,45.2L866.7,42.3L864.9,39.3L863.7,35.7L862.6,31.0"/>
<path d="M930.1,86.7L933.1,84.3L936.6,82.2L938.1,82.6L935.4,84.9L931.9,87.3Z" stroke-width="1.05"/>
<path d="M615.7,117.0L617.6,117.5" stroke-width="2"/>
<path d="M640.1,111.1L643.3,112.5" stroke-width="2.4"/>
<path d="M666.6,109.9L669.4,107.1" stroke-width="2.2"/>
<path d="M617.6,151.6L622.8,149.9" stroke-width="2"/>
<path d="M556.2,156.9L559.7,155.1L563.3,151.6L566.9,148.0L569.8,146.6L574.0,146.3L578.1,146.9L578.1,145.1L579.3,147.4L582.9,148.6L583.4,150.4L581.7,154.6L578.7,158.1L575.1,160.5L573.4,162.3L574.0,164.6L571.6,164.0L571.0,165.8L574.0,166.4L578.1,165.8L575.1,167.6L576.3,170.6L572.8,171.1L569.2,171.7L569.8,174.1L570.4,175.5"/>
<path d="M572.8,171.1L576.3,171.7L579.9,169.4L584.6,166.4L590.6,163.4L596.5,161.1L602.4,159.9L608.3,159.3L610.1,158.7L611.9,160.5L615.4,161.7L619.0,162.9L622.6,164.0L624.9,162.9L626.1,164.0L624.3,165.8L623.7,168.8L622.0,171.7L621.4,174.1L623.1,175.5"/>
<path d="M683.0,132.0L680.6,135.0L678.3,138.6L679.4,142.1L678.9,146.3L675.9,148.6L672.3,150.4L668.8,152.8L665.2,155.1L661.7,156.9L656.9,158.1L653.4,159.9L651.0,162.3L651.0,165.8L649.2,167.6L651.0,169.4L654.6,171.7L658.1,174.1L660.5,175.5"/>
<path d="M683.0,132.0L686.6,129.7L690.1,127.9L691.9,126.1L691.3,124.3L694.3,124.9L697.8,124.9L700.8,122.0L703.7,119.0L705.5,116.0L708.5,115.4L711.4,116.6L712.0,120.8L715.0,121.4L718.6,122.6L722.1,124.3L725.7,122.6L731.6,121.4L736.3,119.0L742.3,116.0L747.0,113.1L749.4,110.7L751.7,108.9L754.1,106.0L756.5,103.0"/>
<path d="M803.3,130.9L803.4,131.0" stroke-width="2.4"/>
<path d="M879.7,110.5L882.1,108.1L885.7,104.6L888.6,101.0L892.2,101.0L894.0,101.6L891.6,102.5L888.6,102.8L886.3,105.7L883.3,108.7L880.9,110.8Z" stroke-width="1.0"/>
<path d="M894.9,109.4L898.5,109.7" stroke-width="2.4"/>
<path d="M898.1,101.0L901.7,97.4L905.8,94.5L909.4,92.1L911.7,89.1L912.9,90.3L915.3,91.2L918.9,89.1L921.8,87.6L923.4,88.6L922.4,90.0L918.9,90.9L915.9,92.3L912.9,93.5L910.0,93.1L907.0,95.7L902.9,98.6L899.3,101.4Z" stroke-width="1.05"/>
<path d="M825.5,92.1L825.6,92.2" stroke-width="2.6"/>
<path d="M809.6,150.4L809.2,153.0L810.4,157.8L806.9,158.7L811.0,159.6L811.0,163.7L809.2,168.4L807.4,172.0L805.1,175.6L802.7,179.1L800.9,182.1L798.0,184.4L795.0,186.2L792.0,189.8L788.5,193.3L783.7,195.1L779.0,196.9L775.4,199.3L772.5,198.1L770.7,195.1L772.5,192.7L775.4,190.4L772.5,190.4L768.9,192.1L767.7,194.5L768.9,197.5L767.1,200.4L764.2,204.0L761.2,207.0L758.9,209.9L758.9,212.5"/>
<path d="M787.3,185.6L789.1,182.1L790.9,179.7L791.4,182.1L790.3,184.4L788.5,186.2Z"/>
<path d="M828.5,150.1L830.0,151.3L832.9,153.0L835.3,157.8L836.5,163.7L835.3,167.9L832.9,170.8L830.6,174.4L828.8,177.9L829.4,179.7L826.4,178.5L823.4,180.3L821.7,182.7L822.9,186.2L824.0,189.8L823.4,193.9"/>
<path d="M694.9,229.6L698.4,227.9L703.1,225.5L706.7,223.1L711.4,220.1L715.6,217.2L718.6,215.4L722.1,214.8L724.5,215.4L730.4,214.8L736.3,214.2L742.3,213.3L747.0,212.4L749.4,213.0L751.1,214.8L754.1,215.4L757.7,214.2L760.0,212.4L760.6,210.1L759.4,208.3L761.8,205.9L764.8,203.6L767.1,201.2L768.3,200.0L768.9,198.2"/>
<path d="M724.2,205.9L724.4,206.0" stroke-width="3"/>
<path d="M694.9,229.6L693.7,231.1L694.9,232.0L698.4,233.8L703.1,234.4L707.9,233.2L711.4,232.6L712.6,230.8L715.0,230.2L718.6,229.6L723.3,228.4L728.0,227.9L731.6,226.7L735.1,225.5L739.9,224.7L744.6,224.9L748.2,226.1L751.1,226.7L751.7,228.4L749.4,230.2L747.6,232.0L748.2,235.0L750.0,237.9L752.9,240.3L755.9,241.5L758.9,240.3L760.6,237.3L763.6,234.4L766.0,232.0L769.5,230.8L771.3,228.4L768.3,227.3L766.6,224.9L767.7,222.5L770.1,221.9L771.9,224.9L775.4,225.5L780.2,225.5L784.9,226.7L787.9,226.1L789.7,223.1L792.6,221.3L795.0,223.1L796.2,226.1L798.6,223.1L799.7,220.1L802.7,218.4"/>
<path d="M757.1,221.9L760.6,217.2L762.2,217.8L760.0,220.7L758.3,222.5Z"/>
<path d="M555.0,189.6L556.2,189.0L559.7,186.6L564.5,185.4L568.0,186.6L571.6,188.4L575.1,190.1L578.7,190.7L582.3,190.1L585.8,191.3L588.8,191.3L587.0,193.7L586.4,196.7L584.0,197.9L581.7,196.7L578.7,197.9L575.1,199.0L571.6,200.2L568.0,201.4L565.7,202.0L563.9,204.4L562.1,206.7L559.7,207.3L557.4,207.9L556.2,209.7L555.0,210.9"/>
<path d="M570.4,168.8L568.6,173.0L570.4,174.1L574.0,173.0L577.5,171.2L580.5,170.0L576.3,167.0"/>
<path d="M623.1,168.2L622.6,170.0L620.8,172.4L620.2,174.7L623.1,175.0L626.1,175.3L622.6,175.9L619.0,177.1L617.2,180.1L614.9,181.9L617.8,181.9L619.6,183.6L622.0,186.0L624.9,185.4L627.3,183.6L630.9,184.8L633.8,185.4L636.8,186.6L638.0,185.4L639.7,187.2L642.1,189.0L640.3,190.1L639.7,193.1L642.7,195.5L643.3,197.9L640.3,197.9L638.0,196.7L635.6,197.9L633.2,199.0L635.0,201.4L637.4,202.0L636.8,204.4L638.6,206.7L641.5,208.5L640.9,210.9L639.1,213.3L638.0,215.6L636.8,218.6L635.6,221.0L636.8,223.3L637.4,226.3L635.6,228.1L633.2,229.3L635.6,229.9L638.0,230.4L639.7,228.1L642.7,228.1L645.1,226.3L648.6,225.7L651.0,223.9L653.4,223.3L655.7,222.7L658.1,222.7L660.5,222.1L662.9,221.6L664.0,223.9L665.8,222.1L667.6,221.0L670.6,220.4L673.5,218.0L675.3,215.0L676.5,211.5L676.5,207.9L675.3,203.2L675.3,198.4L673.5,193.7L671.1,189.6L668.2,185.4L665.2,181.9L662.9,177.7L660.5,174.7L656.9,172.4L654.6,170.0L652.2,168.2"/>
<path d="M672.3,232.8L673.5,229.3L675.3,225.7L676.5,226.9L674.7,230.4L673.5,233.4Z" stroke-width="1.6"/>
<path d="M678.3,237.6L678.5,237.8" stroke-width="2.4"/>
<path d="M556.2,229.3L558.0,234.0L559.7,238.7L561.5,242.5"/>
<path d="M633.2,243.3L635.0,241.3L638.6,240.5L642.1,240.5L643.9,241.7L642.7,243.7L639.7,244.9L636.2,245.2L633.8,244.5Z"/>
<path d="M559.7,236.0L562.1,239.6L564.5,244.3L566.9,247.9L566.3,251.4L569.2,253.8L572.8,255.6L574.6,259.1L577.5,261.5L579.3,263.9L577.5,266.2L574.0,265.0L571.0,263.9L569.8,262.7L572.2,264.4L575.1,266.6L578.1,267.1L579.3,271.6L578.1,274.5L575.1,275.7L571.6,277.5L568.0,279.3L565.1,281.0L562.1,281.6L558.6,282.8L555.0,283.6"/>
<path d="M571.0,263.3L566.9,261.5L563.3,259.7L559.7,260.3L555.0,261.8"/>
<path d="M555.0,266.2L557.4,266.8L559.7,268.0L560.9,269.8L562.1,271.6L559.7,272.7L556.2,273.9L555.0,274.2"/>
<path d="M564.2,267.8L564.5,267.9" stroke-width="2"/>
<path d="M560.3,271.6L560.6,271.7" stroke-width="2"/>
<path d="M562.7,282.8L563.9,284.6L566.9,284.0L570.4,282.2L573.4,282.8L575.7,285.2L578.1,287.0L580.5,285.2L579.9,283.4L582.9,284.6L584.6,285.8L581.7,287.6L578.7,288.7L579.9,291.7L578.1,293.5L574.6,292.3L575.1,295.3L578.7,295.9L576.3,298.2L574.0,300.6L575.1,303.6L571.6,305.3L569.2,307.1L568.0,308.5"/>
<path d="M665.0,251.6L667.0,250.8" stroke-width="2.6"/>
<path d="M669.7,248.4L671.4,246.7" stroke-width="2.4"/>
<path d="M576.9,300.0L575.7,303.6L576.3,307.1L573.4,308.3L571.0,307.1L569.8,310.1L567.4,309.5L565.1,311.9L562.1,312.4L563.3,315.4L560.9,317.8L559.1,321.3L557.4,324.3L556.2,326.7L555.0,329.6"/>
<path d="M652.9,335.6L654.3,332.9L656.5,330.3L658.8,328.2L661.2,326.1" stroke-width="2.6"/>
<path d="M655.1,331.1L657.2,331.1" stroke-width="2.2"/>
<path d="M672.6,309.0L675.3,306.9L678.3,305.1" stroke-width="2.6"/>
<path d="M668.8,314.0L668.9,314.1" stroke-width="2.6"/>
<path d="M602.2,358.4L604.2,358.3" stroke-width="3"/>
<path d="M606.9,357.6L608.6,356.7L609.5,355.5" stroke-width="2.6"/>
<path d="M622.0,351.6L624.3,353.3" stroke-width="2.4"/>
<path d="M574.3,345.6L577.2,347.2L579.7,348.7L578.8,351.8L577.8,356.1L575.9,361.1L574.3,366.7L572.8,372.3L570.3,377.2L567.9,381.0L566.4,384.7L565.6,389.0L564.1,389.0L563.5,385.9L561.0,383.4L558.6,381.0L556.9,377.2L556.2,372.3L556.7,366.7L559.8,361.1L563.5,354.9L567.2,349.9L571.0,347.4Z"/>
<path d="M664.4,251.6L667.6,250.8" stroke-width="3"/>
<path d="M670.0,248.2L671.3,246.4" stroke-width="2.6"/>
<path d="M693.8,280.9L694.7,278.1L696.1,275.8L696.3,276.7L695.2,279.5L694.3,281.4Z" stroke-width="1.6"/>
<path d="M690.3,281.6L689.9,282.6L688.9,282.9L687.9,282.6L687.5,281.6L687.9,280.5L688.9,280.2L689.9,280.5Z"/>
<path d="M668.9,314.3L669.0,314.4" stroke-width="2.8"/>
<path d="M614.9,181.9L619.6,183.6L622.0,186.0L624.9,185.4" stroke-width="2.2"/>
<path d="M633.8,185.4L638.0,185.4L642.1,189.0L640.3,193.1L643.3,197.9" stroke-width="1.8"/>
<path d="M643.3,197.9L638.0,196.7L633.2,199.0L635.6,202.0" stroke-width="2.4"/>
<path d="M636.8,204.4L641.5,208.5L638.0,215.6L635.6,221.0L637.4,226.3L633.2,229.3" stroke-width="2.2"/>
<path d="M638.0,230.4L642.7,228.1L648.6,225.7L655.7,222.7L662.9,221.6L665.8,222.1" stroke-width="2.8"/>
<path d="M645.1,228.1L649.8,226.7L654.6,224.8" stroke-width="2.0"/>
<path d="M834.7,87.6L838.3,90.3L841.8,94.5L845.4,98.0L848.9,100.4L852.5,102.8L856.0,104.2L859.6,105.4L863.1,106.3L865.5,107.5L869.1,108.1L872.6,106.9L875.6,105.1L878.0,103.4L878.6,104.6L876.8,107.5L875.6,110.5L877.4,112.9L878.0,115.2L880.9,116.1L883.9,115.2L882.1,116.8L879.1,117.9L875.6,118.8L872.6,120.0L869.1,120.6L865.5,120.3L862.0,121.1L858.4,123.5L855.4,126.5L853.1,130.0L851.9,133.4L848.3,132.0L843.9,130.2L839.4,128.0L835.0,125.7L832.0,124.6L829.8,124.4L826.9,125.4L824.3,126.9L822.0,128.0L820.2,126.5L818.0,125.4L815.4,125.6L813.9,126.9L814.3,128.7L816.1,129.8L818.7,130.9L820.9,132.4L823.1,133.5L824.6,135.0L822.8,135.7L820.2,135.0L818.0,135.4L816.1,136.9L813.9,138.7L811.7,139.8L810.2,138.3L810.6,136.1L809.8,133.5L810.2,131.3L808.7,129.4L807.6,127.2L808.3,125.0L810.6,123.1L813.1,121.7L815.7,119.4L814.6,117.6L814.6,115.7L817.2,115.4L820.6,116.5L823.5,117.2L826.1,118.0L828.0,116.1L827.6,113.1L828.0,110.2L830.6,108.0L831.3,105.0L832.1,102.8L832.9,98.0L831.7,93.3L831.1,89.7Z"/>
<path d="M808.3,152.4L809.4,150.0L810.9,148.0L813.5,145.7L813.9,143.5L815.4,142.8L817.2,143.1L818.3,145.0L819.1,146.9L820.6,147.6L822.8,147.2L824.3,146.1L824.6,143.5L823.9,141.3L822.4,139.8L821.3,138.7L823.5,139.1L826.1,139.8L828.3,140.2L828.7,142.8L828.3,146.5L828.3,150.0L828.2,152.4"/>
<path d="M819.4,142.0L820.9,143.5L821.3,145.4" stroke-width="1.6"/>
<path d="M803.0,130.4L803.3,130.7" stroke-width="2.6"/>
<path d="M578.7,288.7L579.9,291.7L578.1,293.5L575.1,295.3L578.7,295.9L576.3,298.2L574.0,300.6L575.1,303.6L571.6,305.3" stroke-width="2.0"/>
<path d="M576.3,307.1L573.4,308.3L571.0,307.1L569.8,310.1L567.4,309.5L565.1,311.9L562.1,312.4L563.3,315.4" stroke-width="1.9"/>
<path d="M712.4,240.9L714.6,238.7L716.9,235.7L719.1,233.5L720.9,233.1L722.8,234.6L725.7,235.0L728.7,233.5L730.6,231.7L729.4,230.2L730.9,228.7L733.1,228.0L734.6,229.1L736.9,228.3L739.1,227.6L740.6,228.7L742.0,229.8L743.5,230.9L742.8,232.4L741.3,233.5L741.7,235.4L742.4,236.9L741.3,238.3L739.4,239.8L737.6,241.3L736.1,243.5L735.4,244.6L734.3,243.1L732.8,241.7L730.6,240.6L728.0,240.6L726.1,241.7L724.6,243.5L723.1,245.4L721.7,247.2L720.6,249.4L720.6,251.3L718.7,250.6L716.9,249.4L715.0,248.3L713.9,246.5L713.1,244.6L712.8,242.8Z"/>
<path d="M729.4,230.2L730.9,228.7L733.1,228.0L734.6,229.1L736.9,228.3L739.1,227.6L740.6,228.7" stroke-width="1.8"/>
<path d="M679.4,241.6L681.6,240.1L684.2,238.7L686.8,237.2L689.4,236.1L692.0,235.7L694.2,235.3L695.7,236.1L696.4,237.9L697.9,239.4L700.5,239.8L703.1,239.4L704.6,240.9L703.9,243.1L702.0,243.5L703.9,244.6L706.1,245.7L707.9,247.2L708.3,249.0L706.8,250.9L705.0,252.4L703.9,254.6L702.7,257.2L702.0,259.8L701.6,262.4L700.5,265.0L699.4,267.0L698.9,266.6L697.0,268.4L695.2,269.3L693.8,271.2L691.9,272.6L690.6,273.0L690.1,270.7L691.9,268.9L692.4,266.6L691.5,264.2L690.1,264.7L689.6,267.0L688.7,269.3L686.9,269.8L685.0,268.9L684.5,267.0L685.7,265.3L685.0,263.1L685.3,260.9L686.4,259.0L684.6,259.0L683.1,257.9L683.9,256.4L685.7,256.8L687.6,256.1L689.4,254.6L690.1,252.4L689.4,249.8L687.9,247.6L686.1,246.4L684.2,247.2L684.6,249.4L683.1,251.6L681.6,253.1L679.4,252.4L679.8,250.5L677.9,249.0L679.0,247.6L678.3,245.7L675.7,245.3L675.0,243.9L677.2,243.1Z"/>
<path d="M675.0,243.9L678.3,245.7L679.0,247.6L677.9,249.0L679.8,250.5L679.4,252.4L681.6,253.1" stroke-width="2.6"/>
<path d="M683.1,251.6L684.6,249.4L684.2,247.2L686.1,246.4L687.9,247.6L689.4,249.8L690.1,252.4L689.4,254.6L687.6,256.1L685.7,256.8L683.9,256.4" stroke-width="2.4"/>
<path d="M680.9,246.4L682.7,247.9L682.4,250.1" stroke-width="2.2"/>
<path d="M686.1,250.1L687.2,252.4L686.4,254.6" stroke-width="2.2"/>
<path d="M683.1,257.9L684.6,259.0L686.4,259.0L685.3,260.9" stroke-width="2.2"/>
<path d="M674.2,225.7L676.1,226.4" stroke-width="3"/>
<path d="M673.1,230.1L673.5,232.4" stroke-width="3"/>
<path d="M678.5,237.6L678.6,237.6" stroke-width="3"/>
<path d="M690.4,264.1L691.0,264.6" stroke-width="3"/>
<path d="M802.0,218.3L804.3,218.7L806.1,219.8L806.9,221.7L808.0,223.1L809.4,222.4L810.9,220.9L813.1,220.2L814.6,219.1L815.4,217.2L816.1,215.4L817.6,213.9L819.1,212.8L821.3,212.8L819.8,210.6L818.3,208.7L817.6,206.1L818.3,203.1L819.4,200.2L821.3,197.2L823.5,195.0L823.4,193.9"/>
<path d="M806.1,219.8L806.5,217.2L808.0,214.6L809.8,213.5L811.3,214.4L810.6,216.5L809.4,218.7L808.6,220.9L808.0,223.0"/>
<path d="M813.1,208.3L815.4,209.1" stroke-width="2.4"/>
</g>
<path d="M618.5,31.5V414.35M682.5,31.5V414.35M746.5,31.5V414.35M810.5,31.5V414.35M873.5,31.5V414.35M555.5,349.5H938.5M555.5,285.5H938.5M555.5,222.5H938.5M555.5,158.5H938.5M555.5,94.5H938.5" stroke="#808080" stroke-opacity="0.5" stroke-width="1" fill="none"/>
</g>
<rect x="810.4" y="271.3" width="104.9" height="103.6" fill="#fff"/>
<g clip-path="url(#insclip)"><path d="M820.1,343.2h4.4M822.3,341.0v4.4M881.2,341.1h4.4M883.4,338.9v4.4M866.3,350.2h4.4M868.5,348.0v4.4M812.5,357.6h4.4M814.7,355.4v4.4M826.3,358.9h4.4M828.5,356.7v4.4M815.0,361.4h4.4M817.2,359.2v4.4M808.7,355.2h4.4M810.9,353.0v4.4M825.9,366.6h4.4M828.1,364.4v4.4M825.9,370.2h4.4M828.1,368.0v4.4M838.6,367.0h4.4M840.8,364.8v4.4M834.4,372.3h4.4M836.6,370.1v4.4M836.0,372.8h4.4M838.2,370.6v4.4M842.3,373.9h4.4M844.5,371.7v4.4M864.3,374.2h4.4M866.5,372.0v4.4M866.9,374.6h4.4M869.1,372.4v4.4M809.5,364.0h4.4M811.7,361.8v4.4M811.3,365.1h4.4M813.5,362.9v4.4M810.3,363.0h4.4M812.5,360.8v4.4M812.9,367.1h4.4M815.1,364.9v4.4M809.2,366.6h4.4M811.4,364.4v4.4M814.0,369.2h4.4M816.2,367.0v4.4M811.3,368.7h4.4M813.5,366.5v4.4M832.3,373.7h4.4M834.5,371.5v4.4M829.2,374.1h4.4M831.4,371.9v4.4M820.8,373.9h4.4M823.0,371.7v4.4M823.4,373.3h4.4M825.6,371.1v4.4M817.6,373.7h4.4M819.8,371.5v4.4M819.2,374.4h4.4M821.4,372.2v4.4M816.1,372.8h4.4M818.3,370.6v4.4M846.0,374.6h4.4M848.2,372.4v4.4M825.0,372.8h4.4M827.2,370.6v4.4M808.4,374.7h4.4M810.6,372.5v4.4M810.3,371.6h4.4M812.5,369.4v4.4M808.9,374.9h4.4M811.1,372.7v4.4M808.4,374.1h4.4M810.6,371.9v4.4M808.2,374.8h4.4M810.4,372.6v4.4M809.7,373.3h4.4M811.9,371.1v4.4M809.1,373.3h4.4M811.3,371.1v4.4M810.9,374.2h4.4M813.1,372.0v4.4M810.8,371.7h4.4M813.0,369.5v4.4M809.9,370.4h4.4M812.1,368.2v4.4M808.4,374.4h4.4M810.6,372.2v4.4M808.7,374.1h4.4M810.9,371.9v4.4M808.2,374.6h4.4M810.4,372.4v4.4M808.7,374.4h4.4M810.9,372.2v4.4M808.7,373.7h4.4M810.9,371.5v4.4M808.9,368.4h4.4M811.1,366.2v4.4M811.3,371.9h4.4M813.5,369.7v4.4M808.5,371.3h4.4M810.7,369.1v4.4M809.1,374.7h4.4M811.3,372.5v4.4M809.0,374.6h4.4M811.2,372.4v4.4M809.9,372.1h4.4M812.1,369.9v4.4M808.8,374.6h4.4M811.0,372.4v4.4M810.6,373.2h4.4M812.8,371.0v4.4M808.3,374.8h4.4M810.5,372.6v4.4M810.8,369.5h4.4M813.0,367.3v4.4M808.5,371.4h4.4M810.7,369.2v4.4M810.9,369.5h4.4M813.1,367.3v4.4M814.9,372.9h4.4M817.1,370.7v4.4M808.9,369.6h4.4M811.1,367.4v4.4M811.8,369.8h4.4M814.0,367.6v4.4M808.3,374.4h4.4M810.5,372.2v4.4M809.4,373.2h4.4M811.6,371.0v4.4M808.3,374.6h4.4M810.5,372.4v4.4M808.2,373.7h4.4M810.4,371.5v4.4M811.7,371.9h4.4M813.9,369.7v4.4M810.8,374.2h4.4M813.0,372.0v4.4M808.5,373.4h4.4M810.7,371.2v4.4M812.9,374.5h4.4M815.1,372.3v4.4M808.5,374.2h4.4M810.7,372.0v4.4M808.7,374.6h4.4M810.9,372.4v4.4M812.3,370.1h4.4M814.5,367.9v4.4M808.2,368.7h4.4M810.4,366.5v4.4M808.4,374.5h4.4M810.6,372.3v4.4M809.3,374.8h4.4M811.5,372.6v4.4M808.7,374.0h4.4M810.9,371.8v4.4M810.9,374.1h4.4M813.1,371.9v4.4M813.1,371.9h4.4M815.3,369.7v4.4M808.3,373.2h4.4M810.5,371.0v4.4M809.9,373.2h4.4M812.1,371.0v4.4M809.4,373.5h4.4M811.6,371.3v4.4M809.7,372.8h4.4M811.9,370.6v4.4M809.9,372.0h4.4M812.1,369.8v4.4M810.7,372.6h4.4M812.9,370.4v4.4M808.7,373.6h4.4M810.9,371.4v4.4M808.2,374.7h4.4M810.4,372.5v4.4M818.0,374.5h4.4M820.2,372.3v4.4M818.6,374.4h4.4M820.8,372.2v4.4M819.2,374.9h4.4M821.4,372.7v4.4M808.6,374.4h4.4M810.8,372.2v4.4M809.3,374.4h4.4M811.5,372.2v4.4M820.0,374.1h4.4M822.2,371.9v4.4M814.9,374.7h4.4M817.1,372.5v4.4M821.5,374.9h4.4M823.7,372.7v4.4M809.3,374.8h4.4M811.5,372.6v4.4M821.0,374.5h4.4M823.2,372.3v4.4M816.8,374.8h4.4M819.0,372.6v4.4M819.4,374.7h4.4M821.6,372.5v4.4M814.1,374.5h4.4M816.3,372.3v4.4M815.2,374.5h4.4M817.4,372.3v4.4M815.3,374.7h4.4M817.5,372.5v4.4M822.8,374.2h4.4M825.0,372.0v4.4M822.1,374.8h4.4M824.3,372.6v4.4M814.1,374.7h4.4M816.3,372.5v4.4M812.7,374.0h4.4M814.9,371.8v4.4M811.7,374.2h4.4M813.9,372.0v4.4M810.1,374.6h4.4M812.3,372.4v4.4M814.3,374.4h4.4M816.5,372.2v4.4M816.5,374.1h4.4M818.7,371.9v4.4M824.4,374.7h4.4M826.6,372.5v4.4M820.5,374.5h4.4M822.7,372.3v4.4" stroke="#000" stroke-width="0.65" fill="none"/></g>
<path d="M810.4,374.9L915.3,271.3" stroke="#000" stroke-width="1.1" fill="none"/>
<rect x="810.4" y="271.3" width="104.9" height="103.6" fill="none" stroke="#000" stroke-width="0.9"/>
<path d="M810.4,374.9h-3.2M810.4,374.9v3.2M810.4,369.7h-1.9M815.6,374.9v1.9M810.4,364.5h-1.9M820.9,374.9v1.9M810.4,359.4h-1.9M826.1,374.9v1.9M810.4,354.2h-3.2M831.4,374.9v3.2M810.4,349.0h-1.9M836.6,374.9v1.9M810.4,343.8h-1.9M841.9,374.9v1.9M810.4,338.6h-1.9M847.1,374.9v1.9M810.4,333.5h-3.2M852.4,374.9v3.2M810.4,328.3h-1.9M857.6,374.9v1.9M810.4,323.1h-1.9M862.8,374.9v1.9M810.4,317.9h-1.9M868.1,374.9v1.9M810.4,312.7h-3.2M873.3,374.9v3.2M810.4,307.6h-1.9M878.6,374.9v1.9M810.4,302.4h-1.9M883.8,374.9v1.9M810.4,297.2h-1.9M889.1,374.9v1.9M810.4,292.0h-3.2M894.3,374.9v3.2M810.4,286.8h-1.9M899.6,374.9v1.9M810.4,281.7h-1.9M904.8,374.9v1.9M810.4,276.5h-1.9M910.1,374.9v1.9M810.4,271.3h-3.2M915.3,374.9v3.2" stroke="#000" stroke-width="0.8" fill="none"/>
<text class="cn" x="803.9" y="378.0" font-size="8.6" text-anchor="end">0</text>
<text class="cn" x="810.5" y="388.9" font-size="8.6" text-anchor="middle">0</text>
<text class="cn" x="803.9" y="357.3" font-size="8.6" text-anchor="end">2</text>
<text class="cn" x="831.5" y="388.9" font-size="8.6" text-anchor="middle">2</text>
<text class="cn" x="803.9" y="336.6" font-size="8.6" text-anchor="end">4</text>
<text class="cn" x="852.5" y="388.9" font-size="8.6" text-anchor="middle">4</text>
<text class="cn" x="803.9" y="315.8" font-size="8.6" text-anchor="end">6</text>
<text class="cn" x="873.4" y="388.9" font-size="8.6" text-anchor="middle">6</text>
<text class="cn" x="803.9" y="295.1" font-size="8.6" text-anchor="end">8</text>
<text class="cn" x="894.4" y="388.9" font-size="8.6" text-anchor="middle">8</text>
<text class="cn" x="802.4" y="274.4" font-size="8.6" text-anchor="end">10</text>
<text class="cn" x="915.4" y="388.9" font-size="8.6" text-anchor="middle">10</text>
<text x="861.4" y="398.6" font-size="10" text-anchor="middle">ANALYSIS</text>
<text transform="translate(791.1,323.1) rotate(-90)" font-size="10" text-anchor="middle">GSMAP_NRT_1HR</text>
<rect x="555.5" y="31.5" width="383.0" height="382.9" fill="none" stroke="#000" stroke-width="1"/>
<text x="618.5" y="424.8" font-size="8.3" text-anchor="middle" class="cn">125°E</text>
<text x="682.3" y="424.8" font-size="8.3" text-anchor="middle" class="cn">130°E</text>
<text x="746.2" y="424.8" font-size="8.3" text-anchor="middle" class="cn">135°E</text>
<text x="810.0" y="424.8" font-size="8.3" text-anchor="middle" class="cn">140°E</text>
<text x="873.8" y="424.8" font-size="8.3" text-anchor="middle" class="cn">145°E</text>
<text x="549.6" y="351.9" font-size="8.3" text-anchor="end" class="cn">25°N</text>
<text x="549.6" y="288.1" font-size="8.3" text-anchor="end" class="cn">30°N</text>
<text x="549.6" y="224.4" font-size="8.3" text-anchor="end" class="cn">35°N</text>
<text x="549.6" y="160.7" font-size="8.3" text-anchor="end" class="cn">40°N</text>
<text x="549.6" y="96.9" font-size="8.3" text-anchor="end" class="cn">45°N</text>
<text x="561.5" y="407.3" font-size="10" text-anchor="start" >Provided by JWA/JMA</text>
<rect x="972.1" y="377.48" width="21.5" height="36.82" fill="#ffe6ba"/>
<rect x="972.1" y="340.96" width="21.5" height="36.82" fill="#dcffc8"/>
<rect x="972.1" y="304.44" width="21.5" height="36.82" fill="#96fa96"/>
<rect x="972.1" y="267.92" width="21.5" height="36.82" fill="#64ffff"/>
<rect x="972.1" y="231.40" width="21.5" height="36.82" fill="#00c3ff"/>
<rect x="972.1" y="194.88" width="21.5" height="36.82" fill="#0064ff"/>
<rect x="972.1" y="158.36" width="21.5" height="36.82" fill="#9664ff"/>
<rect x="972.1" y="121.84" width="21.5" height="36.82" fill="#dc64ff"/>
<rect x="972.1" y="85.32" width="21.5" height="36.82" fill="#ff00ff"/>
<rect x="972.1" y="48.80" width="21.5" height="36.82" fill="#cd9646"/>
<path d="M972.1,48.8L982.9,30.4L993.6,48.8Z" fill="#000"/>
<path d="M972.1,414.0H993.6V48.8L982.9,30.4L972.1,48.8Z" fill="none" stroke="#000" stroke-width="0.9"/>
<text x="1001.0" y="418.2" font-size="11.3" text-anchor="start" >0</text>
<text x="1001.0" y="381.7" font-size="11.3" text-anchor="start" >0.01</text>
<text x="1001.0" y="345.2" font-size="11.3" text-anchor="start" >0.5</text>
<text x="1001.0" y="308.6" font-size="11.3" text-anchor="start" >1</text>
<text x="1001.0" y="272.1" font-size="11.3" text-anchor="start" >2</text>
<text x="1001.0" y="235.6" font-size="11.3" text-anchor="start" >3</text>
<text x="1001.0" y="199.1" font-size="11.3" text-anchor="start" >4</text>
<text x="1001.0" y="162.6" font-size="11.3" text-anchor="start" >5</text>
<text x="1001.0" y="126.0" font-size="11.3" text-anchor="start" >10</text>
<text x="1001.0" y="89.5" font-size="11.3" text-anchor="start" >25</text>
<text x="1001.0" y="53.0" font-size="11.3" text-anchor="start" >50</text>
<path d="M993.6,414.0h3.6M993.6,377.5h3.6M993.6,341.0h3.6M993.6,304.4h3.6M993.6,267.9h3.6M993.6,231.4h3.6M993.6,194.9h3.6M993.6,158.4h3.6M993.6,121.8h3.6M993.6,85.3h3.6M993.6,48.8h3.6" stroke="#000" stroke-width="0.9" fill="none"/>
<text x="140.3" y="446.8" font-size="10" text-anchor="middle" >Hourly fraction by occurence</text>
<rect x="74.4" y="452.4" width="130.20" height="18.1" fill="#ffe6ba" stroke="#000" stroke-width="0.65"/>
<rect x="204.6" y="452.4" width="1.90" height="18.1" fill="#dcffc8" stroke="#000" stroke-width="0.65"/>
<rect x="206.5" y="452.4" width="0.50" height="18.1" fill="#96fa96" stroke="#000" stroke-width="0.65"/>
<rect x="207.0" y="452.4" width="0.30" height="18.1" fill="#64ffff" stroke="#000" stroke-width="0.65"/>
<rect x="207.3" y="452.4" width="0.20" height="18.1" fill="#00c3ff" stroke="#000" stroke-width="0.65"/>
<rect x="207.5" y="452.4" width="0.30" height="18.1" fill="#0064ff" stroke="#000" stroke-width="0.65"/>
<rect x="74.4" y="479.4" width="111.90" height="17.8" fill="#ffe6ba" stroke="#000" stroke-width="0.65"/>
<rect x="186.3" y="479.4" width="17.00" height="17.8" fill="#dcffc8" stroke="#000" stroke-width="0.65"/>
<rect x="203.3" y="479.4" width="2.00" height="17.8" fill="#96fa96" stroke="#000" stroke-width="0.65"/>
<rect x="205.3" y="479.4" width="1.10" height="17.8" fill="#64ffff" stroke="#000" stroke-width="0.65"/>
<rect x="206.4" y="479.4" width="0.60" height="17.8" fill="#00c3ff" stroke="#000" stroke-width="0.65"/>
<rect x="207.0" y="479.4" width="0.40" height="17.8" fill="#0064ff" stroke="#000" stroke-width="0.65"/>
<rect x="207.4" y="479.4" width="0.40" height="17.8" fill="#9664ff" stroke="#000" stroke-width="0.65"/>
<path d="M204.6,470.5L186.3,479.4M206.5,470.5L203.3,479.4M207.0,470.5L205.3,479.4M207.3,470.5L206.4,479.4M207.5,470.5L207.0,479.4" stroke="#000" stroke-width="0.7" fill="none"/>
<path d="M74.4,470.5V479.4M207.8,470.5V479.4" stroke="#000" stroke-width="0.65" fill="none"/>
<text x="47.0" y="465.9" font-size="10" text-anchor="start" >Est</text>
<text x="47.0" y="492.7" font-size="10" text-anchor="start" >Obs</text>
<text x="57.6" y="509.4" font-size="10" text-anchor="start" >0%</text>
<text x="135.6" y="509.4" font-size="10" text-anchor="middle" >Areal fraction</text>
<text x="194.8" y="509.4" font-size="10" text-anchor="start" >100%</text>
<text x="139.8" y="527.7" font-size="10" text-anchor="middle" >Hourly fraction of total rain</text>
<rect x="74.4" y="533.3" width="1.90" height="18.0" fill="#ffe6ba" stroke="#000" stroke-width="0.65"/>
<rect x="76.3" y="533.3" width="5.20" height="18.0" fill="#dcffc8" stroke="#000" stroke-width="0.65"/>
<rect x="81.5" y="533.3" width="4.10" height="18.0" fill="#96fa96" stroke="#000" stroke-width="0.65"/>
<rect x="85.6" y="533.3" width="7.00" height="18.0" fill="#64ffff" stroke="#000" stroke-width="0.65"/>
<rect x="92.6" y="533.3" width="1.70" height="18.0" fill="#00c3ff" stroke="#000" stroke-width="0.65"/>
<rect x="94.3" y="533.3" width="4.40" height="18.0" fill="#0064ff" stroke="#000" stroke-width="0.65"/>
<rect x="74.4" y="560.1" width="2.10" height="18.2" fill="#ffe6ba" stroke="#000" stroke-width="0.65"/>
<rect x="76.5" y="560.1" width="32.90" height="18.2" fill="#dcffc8" stroke="#000" stroke-width="0.65"/>
<rect x="109.4" y="560.1" width="19.10" height="18.2" fill="#96fa96" stroke="#000" stroke-width="0.65"/>
<rect x="128.5" y="560.1" width="28.20" height="18.2" fill="#64ffff" stroke="#000" stroke-width="0.65"/>
<rect x="156.7" y="560.1" width="18.50" height="18.2" fill="#00c3ff" stroke="#000" stroke-width="0.65"/>
<rect x="175.2" y="560.1" width="13.30" height="18.2" fill="#0064ff" stroke="#000" stroke-width="0.65"/>
<rect x="188.5" y="560.1" width="19.30" height="18.2" fill="#dc64ff" stroke="#000" stroke-width="0.65"/>
<path d="M76.3,551.3L76.5,560.1M81.5,551.3L109.4,560.1M85.6,551.3L128.5,560.1M92.6,551.3L156.7,560.1M94.3,551.3L175.2,560.1M98.7,551.3L188.5,560.1M98.7,551.3L207.8,560.1" stroke="#000" stroke-width="0.7" fill="none"/>
<path d="M74.4,551.3V560.1" stroke="#000" stroke-width="0.65" fill="none"/>
<text x="47.0" y="546.8" font-size="10" text-anchor="start" >Est</text>
<text x="47.0" y="573.7" font-size="10" text-anchor="start" >Obs</text>
<text x="140.8" y="590.2" font-size="10" text-anchor="middle" >Rainfall accumulation by amount</text>
<path d="M277.5,478.4H401.3V573.3H277.5ZM339.3,478.4V573.3M277.5,526.2H401.3" stroke="#000" stroke-width="1" fill="none"/>
<text x="338.5" y="455.2" font-size="10" text-anchor="middle" >GSMAP_NRT_1HR</text>
<text x="308.2" y="470.1" font-size="10" text-anchor="middle" >&lt;0.01</text>
<text x="369.8" y="470.1" font-size="10" text-anchor="middle" >≥0.01</text>
<text x="275.2" y="506.1" font-size="10" text-anchor="end" >&lt;0.01</text>
<text x="275.2" y="553.2" font-size="10" text-anchor="end" >≥0.01</text>
<text transform="translate(246.4,520.4) rotate(-90)" font-size="10" text-anchor="middle">ANALYSIS</text>
<text x="308.2" y="506.1" font-size="10" text-anchor="middle" >3008</text>
<text x="370.6" y="506.1" font-size="10" text-anchor="middle" >5</text>
<text x="308.2" y="553.2" font-size="10" text-anchor="middle" >40</text>
<text x="370.6" y="553.2" font-size="10" text-anchor="middle" >4</text>
<text x="459.8" y="453.9" font-size="10" xml:space="preserve">Validation statistics for 20250813 09  n=3057 Valid. grid=0.25°<tspan dx="1.8"> Units=mm/hr.</tspan></text>
<path d="M457.6,457.6H996.7" stroke="#000" stroke-width="0.9" stroke-dasharray="3.3,1.45" fill="none"/>
<path d="M457.6,480.4H758" stroke="#000" stroke-width="0.9" stroke-dasharray="3.3,1.45" fill="none"/>
<text x="632.3" y="474.7" font-size="10" text-anchor="middle" >ANALYSIS</text>
<text x="713.5" y="474.7" font-size="10" text-anchor="middle" >GSMAP_NRT_1HR</text>
<text x="459.8" y="499.4" font-size="10" text-anchor="start" >Num of gridpoints raining</text>
<text x="649.6" y="499.4" font-size="10" text-anchor="end" >44</text>
<text x="729.8" y="499.4" font-size="10" text-anchor="end" >9</text>
<text x="459.8" y="519.2" font-size="10" text-anchor="start" >Average rain</text>
<text x="649.6" y="519.2" font-size="10" text-anchor="end" >0.1</text>
<text x="729.8" y="519.2" font-size="10" text-anchor="end" >0.0</text>
<text x="459.8" y="539.4" font-size="10" text-anchor="start" >Conditional rain</text>
<text x="649.6" y="539.4" font-size="10" text-anchor="end" >3.8</text>
<text x="729.8" y="539.4" font-size="10" text-anchor="end" >3.1</text>
<text x="461.0" y="559.6" font-size="10">Rain volume (mm km<tspan font-size="7" dy="-3.6">2</tspan><tspan dy="3.6">10</tspan><tspan font-size="7" dy="-3.6">6</tspan><tspan dy="3.6">)</tspan></text>
<text x="649.6" y="558.4" font-size="10" text-anchor="end" >0.1</text>
<text x="729.8" y="558.4" font-size="10" text-anchor="end" >0.0</text>
<text x="459.8" y="578.2" font-size="10" text-anchor="start" >Maximum rain</text>
<text x="649.6" y="578.2" font-size="10" text-anchor="end" >7.0</text>
<text x="729.8" y="578.2" font-size="10" text-anchor="end" >3.2</text>
<text x="784.0" y="471.9" font-size="10" text-anchor="start" xml:space="preserve">Mean abs error =    0.1</text>
<text x="784.0" y="488.8" font-size="10" text-anchor="start" xml:space="preserve">RMS error =    0.3</text>
<text x="784.0" y="505.7" font-size="10" text-anchor="start" xml:space="preserve">Correlation coeff =  0.424</text>
<text x="784.0" y="522.7" font-size="10" text-anchor="start" xml:space="preserve">Frequency bias =  0.205</text>
<text x="784.0" y="539.9" font-size="10" text-anchor="start" xml:space="preserve">Probability of detection =  0.091</text>
<text x="784.0" y="556.6" font-size="10" text-anchor="start" xml:space="preserve">False alarm ratio =  0.556</text>
<text x="784.0" y="573.5" font-size="10" text-anchor="start" xml:space="preserve">Hanssen &amp; Kuipers score =  0.089</text>
<text x="784.0" y="590.6" font-size="10" text-anchor="start" xml:space="preserve">Equitable threat score =  0.079</text>
</svg></body></html>
